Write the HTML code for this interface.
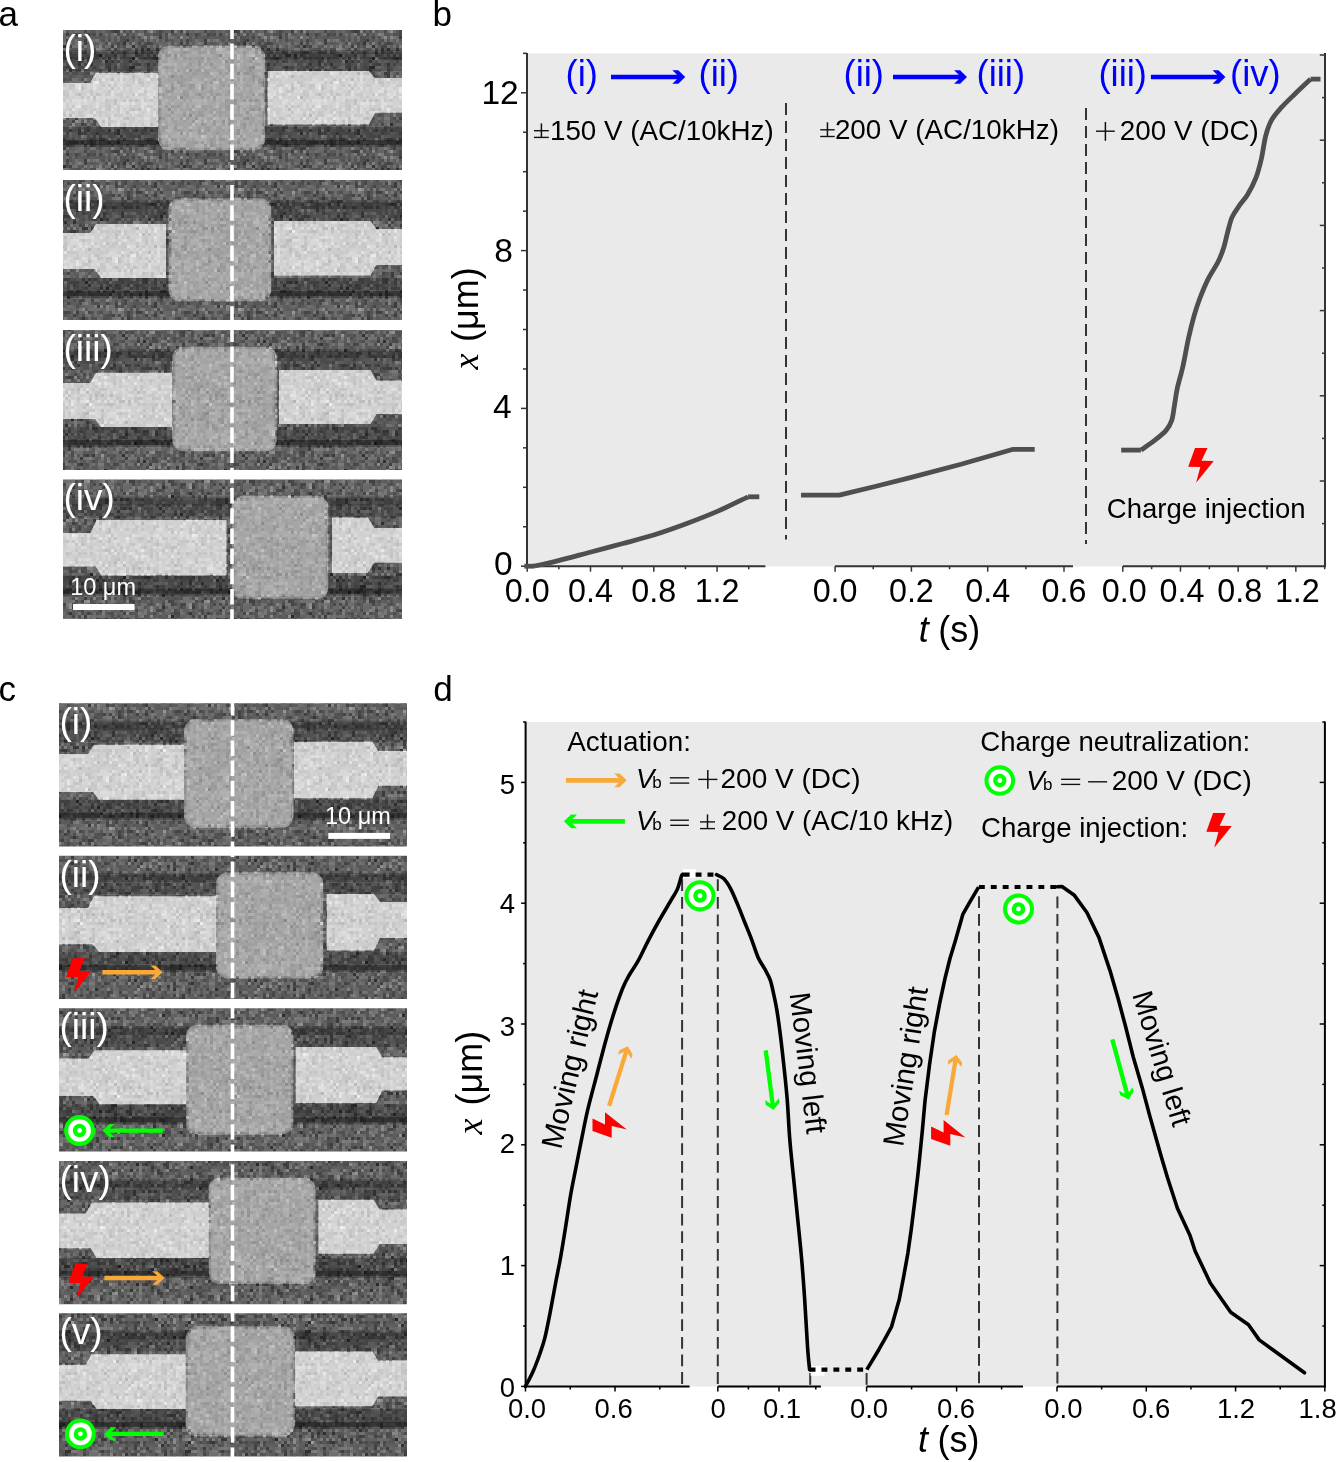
<!DOCTYPE html>
<html><head><meta charset="utf-8"><style>
html,body{margin:0;padding:0;background:#fff;width:1337px;height:1462px;overflow:hidden}
svg{display:block;will-change:transform}
</style></head><body>
<svg width='1337' height='1462' viewBox='0 0 1337 1462'>
<rect width='1337' height='1462' fill='#fff'/>
<defs><pattern id='np' width='120' height='120' patternUnits='userSpaceOnUse'>
<rect width='120' height='120' fill='#808080'/>
<path d='M99 54h3v3h-3z' fill='#323232'/>
<path d='M117 72h3v3h-3zM51 75h3v3h-3zM60 96h3v3h-3z' fill='#383838'/>
<path d='M30 3h3v3h-3zM63 45h3v3h-3zM27 48h3v3h-3zM12 57h3v3h-3zM12 66h3v3h-3zM69 114h3v3h-3z' fill='#3e3e3e'/>
<path d='M3 42h3v3h-3zM12 45h3v3h-3zM21 48h3v3h-3zM36 48h3v3h-3zM54 54h3v3h-3zM105 60h3v3h-3zM9 66h3v3h-3zM111 78h3v3h-3zM51 87h3v3h-3zM48 108h3v3h-3z' fill='#444444'/>
<path d='M108 3h3v3h-3zM45 24h3v3h-3zM45 54h3v3h-3zM48 54h3v3h-3zM36 57h3v3h-3zM69 69h3v3h-3zM6 72h3v3h-3zM12 75h3v3h-3zM78 93h3v3h-3zM6 117h3v3h-3z' fill='#4a4a4a'/>
<path d='M102 0h3v3h-3zM3 3h3v3h-3zM117 9h3v3h-3zM60 12h3v3h-3zM117 12h3v3h-3zM117 21h3v3h-3zM90 24h3v3h-3zM60 27h3v3h-3zM114 30h3v3h-3zM66 33h3v3h-3zM39 36h3v3h-3zM6 39h3v3h-3zM15 51h3v3h-3zM63 51h3v3h-3zM33 57h3v3h-3zM27 63h3v3h-3zM90 63h3v3h-3zM9 69h3v3h-3zM108 69h3v3h-3zM24 72h3v3h-3zM27 75h3v3h-3zM81 87h3v3h-3zM9 99h3v3h-3zM15 99h3v3h-3zM114 99h3v3h-3zM114 102h3v3h-3zM12 108h3v3h-3zM18 108h3v3h-3zM6 111h3v3h-3z' fill='#505050'/>
<path d='M81 3h3v3h-3zM39 18h3v3h-3zM102 18h3v3h-3zM36 21h3v3h-3zM33 27h3v3h-3zM63 27h3v3h-3zM51 30h3v3h-3zM84 39h3v3h-3zM60 42h3v3h-3zM84 42h3v3h-3zM111 45h3v3h-3zM3 51h3v3h-3zM54 57h3v3h-3zM81 57h3v3h-3zM9 60h3v3h-3zM78 60h3v3h-3zM78 63h3v3h-3zM45 66h3v3h-3zM27 72h3v3h-3zM18 78h3v3h-3zM93 78h3v3h-3zM18 81h3v3h-3zM21 81h3v3h-3zM111 87h3v3h-3zM96 93h3v3h-3zM93 96h3v3h-3zM108 105h3v3h-3zM51 111h3v3h-3zM63 114h3v3h-3zM75 117h3v3h-3zM108 117h3v3h-3z' fill='#565656'/>
<path d='M72 0h3v3h-3zM108 0h3v3h-3zM42 6h3v3h-3zM54 6h3v3h-3zM15 9h3v3h-3zM30 9h3v3h-3zM78 9h3v3h-3zM87 9h3v3h-3zM108 9h3v3h-3zM78 12h3v3h-3zM96 12h3v3h-3zM3 18h3v3h-3zM27 18h3v3h-3zM30 18h3v3h-3zM90 18h3v3h-3zM99 18h3v3h-3zM75 21h3v3h-3zM90 21h3v3h-3zM108 21h3v3h-3zM21 24h3v3h-3zM60 30h3v3h-3zM117 30h3v3h-3zM75 33h3v3h-3zM87 33h3v3h-3zM99 33h3v3h-3zM12 36h3v3h-3zM66 39h3v3h-3zM27 42h3v3h-3zM21 45h3v3h-3zM24 45h3v3h-3zM69 45h3v3h-3zM15 48h3v3h-3zM114 48h3v3h-3zM21 51h3v3h-3zM42 51h3v3h-3zM66 51h3v3h-3zM78 51h3v3h-3zM111 51h3v3h-3zM60 54h3v3h-3zM63 57h3v3h-3zM108 57h3v3h-3zM111 60h3v3h-3zM69 63h3v3h-3zM108 66h3v3h-3zM27 69h3v3h-3zM3 72h3v3h-3zM99 72h3v3h-3zM60 75h3v3h-3zM12 78h3v3h-3zM57 81h3v3h-3zM60 81h3v3h-3zM90 81h3v3h-3zM60 84h3v3h-3zM69 84h3v3h-3zM72 84h3v3h-3zM48 90h3v3h-3zM108 90h3v3h-3zM12 93h3v3h-3zM81 96h3v3h-3zM3 99h3v3h-3zM105 99h3v3h-3zM108 108h3v3h-3zM78 111h3v3h-3zM3 117h3v3h-3zM39 117h3v3h-3z' fill='#5c5c5c'/>
<path d='M93 0h3v3h-3zM21 3h3v3h-3zM93 3h3v3h-3zM3 6h3v3h-3zM24 6h3v3h-3zM45 6h3v3h-3zM87 6h3v3h-3zM42 9h3v3h-3zM69 9h3v3h-3zM0 15h3v3h-3zM51 18h3v3h-3zM81 21h3v3h-3zM84 24h3v3h-3zM0 27h3v3h-3zM9 27h3v3h-3zM54 27h3v3h-3zM39 30h3v3h-3zM84 30h3v3h-3zM111 30h3v3h-3zM39 33h3v3h-3zM93 33h3v3h-3zM3 39h3v3h-3zM18 42h3v3h-3zM30 42h3v3h-3zM66 42h3v3h-3zM117 42h3v3h-3zM90 51h3v3h-3zM69 57h3v3h-3zM87 57h3v3h-3zM75 69h3v3h-3zM78 69h3v3h-3zM87 72h3v3h-3zM105 72h3v3h-3zM30 78h3v3h-3zM21 84h3v3h-3zM51 84h3v3h-3zM81 84h3v3h-3zM102 84h3v3h-3zM108 84h3v3h-3zM69 87h3v3h-3zM24 90h3v3h-3zM45 90h3v3h-3zM63 90h3v3h-3zM90 90h3v3h-3zM63 93h3v3h-3zM66 93h3v3h-3zM30 99h3v3h-3zM45 105h3v3h-3zM51 105h3v3h-3zM57 105h3v3h-3zM105 105h3v3h-3zM9 108h3v3h-3zM81 114h3v3h-3zM42 117h3v3h-3z' fill='#626262'/>
<path d='M36 0h3v3h-3zM84 3h3v3h-3zM99 6h3v3h-3zM24 9h3v3h-3zM57 9h3v3h-3zM39 12h3v3h-3zM84 12h3v3h-3zM114 12h3v3h-3zM63 18h3v3h-3zM117 18h3v3h-3zM45 21h3v3h-3zM69 21h3v3h-3zM72 21h3v3h-3zM6 24h3v3h-3zM18 24h3v3h-3zM42 24h3v3h-3zM66 24h3v3h-3zM93 24h3v3h-3zM99 27h3v3h-3zM3 30h3v3h-3zM24 30h3v3h-3zM6 33h3v3h-3zM45 33h3v3h-3zM117 33h3v3h-3zM0 36h3v3h-3zM21 39h3v3h-3zM45 39h3v3h-3zM24 42h3v3h-3zM105 42h3v3h-3zM3 45h3v3h-3zM57 45h3v3h-3zM117 45h3v3h-3zM78 48h3v3h-3zM90 48h3v3h-3zM93 48h3v3h-3zM108 48h3v3h-3zM30 51h3v3h-3zM45 51h3v3h-3zM60 51h3v3h-3zM81 51h3v3h-3zM84 51h3v3h-3zM15 54h3v3h-3zM96 54h3v3h-3zM114 54h3v3h-3zM24 57h3v3h-3zM30 57h3v3h-3zM39 57h3v3h-3zM75 57h3v3h-3zM78 57h3v3h-3zM42 60h3v3h-3zM87 60h3v3h-3zM15 63h3v3h-3zM18 63h3v3h-3zM108 63h3v3h-3zM66 66h3v3h-3zM93 66h3v3h-3zM114 66h3v3h-3zM6 69h3v3h-3zM57 69h3v3h-3zM99 69h3v3h-3zM12 72h3v3h-3zM36 72h3v3h-3zM72 72h3v3h-3zM75 72h3v3h-3zM84 72h3v3h-3zM3 78h3v3h-3zM36 78h3v3h-3zM63 78h3v3h-3zM99 78h3v3h-3zM84 81h3v3h-3zM99 81h3v3h-3zM6 84h3v3h-3zM39 84h3v3h-3zM63 84h3v3h-3zM114 84h3v3h-3zM9 90h3v3h-3zM0 93h3v3h-3zM18 93h3v3h-3zM42 93h3v3h-3zM90 93h3v3h-3zM66 96h3v3h-3zM87 96h3v3h-3zM24 99h3v3h-3zM93 99h3v3h-3zM72 105h3v3h-3zM117 105h3v3h-3zM69 108h3v3h-3zM84 108h3v3h-3zM105 108h3v3h-3zM117 108h3v3h-3zM36 111h3v3h-3zM63 111h3v3h-3zM72 111h3v3h-3zM90 111h3v3h-3zM99 111h3v3h-3zM18 114h3v3h-3zM48 114h3v3h-3zM78 114h3v3h-3zM99 114h3v3h-3zM114 114h3v3h-3zM12 117h3v3h-3zM33 117h3v3h-3zM60 117h3v3h-3zM66 117h3v3h-3z' fill='#686868'/>
<path d='M9 0h3v3h-3zM63 0h3v3h-3zM111 0h3v3h-3zM9 3h3v3h-3zM102 3h3v3h-3zM36 6h3v3h-3zM21 9h3v3h-3zM60 9h3v3h-3zM84 9h3v3h-3zM21 12h3v3h-3zM18 15h3v3h-3zM93 15h3v3h-3zM99 15h3v3h-3zM54 18h3v3h-3zM93 18h3v3h-3zM27 21h3v3h-3zM39 21h3v3h-3zM48 24h3v3h-3zM54 24h3v3h-3zM57 24h3v3h-3zM69 24h3v3h-3zM111 24h3v3h-3zM15 27h3v3h-3zM30 27h3v3h-3zM57 27h3v3h-3zM9 30h3v3h-3zM33 33h3v3h-3zM36 33h3v3h-3zM78 33h3v3h-3zM90 33h3v3h-3zM3 36h3v3h-3zM18 36h3v3h-3zM45 36h3v3h-3zM75 36h3v3h-3zM0 39h3v3h-3zM60 39h3v3h-3zM102 39h3v3h-3zM108 39h3v3h-3zM36 45h3v3h-3zM66 45h3v3h-3zM6 48h3v3h-3zM24 48h3v3h-3zM42 48h3v3h-3zM75 48h3v3h-3zM93 51h3v3h-3zM3 54h3v3h-3zM27 54h3v3h-3zM33 54h3v3h-3zM66 57h3v3h-3zM36 60h3v3h-3zM33 63h3v3h-3zM84 63h3v3h-3zM3 66h3v3h-3zM27 66h3v3h-3zM51 66h3v3h-3zM105 66h3v3h-3zM84 69h3v3h-3zM9 72h3v3h-3zM66 72h3v3h-3zM15 75h3v3h-3zM69 75h3v3h-3zM84 75h3v3h-3zM33 78h3v3h-3zM69 78h3v3h-3zM81 78h3v3h-3zM117 78h3v3h-3zM12 81h3v3h-3zM27 81h3v3h-3zM39 81h3v3h-3zM36 84h3v3h-3zM51 90h3v3h-3zM75 93h3v3h-3zM99 93h3v3h-3zM105 93h3v3h-3zM117 93h3v3h-3zM0 96h3v3h-3zM6 96h3v3h-3zM33 96h3v3h-3zM63 99h3v3h-3zM108 99h3v3h-3zM105 102h3v3h-3zM27 105h3v3h-3zM30 105h3v3h-3zM81 105h3v3h-3zM84 105h3v3h-3zM33 108h3v3h-3zM39 108h3v3h-3zM93 108h3v3h-3zM81 111h3v3h-3zM0 114h3v3h-3zM93 114h3v3h-3zM105 114h3v3h-3zM117 114h3v3h-3z' fill='#6e6e6e'/>
<path d='M12 0h3v3h-3zM18 0h3v3h-3zM30 0h3v3h-3zM54 0h3v3h-3zM0 3h3v3h-3zM15 3h3v3h-3zM54 3h3v3h-3zM69 3h3v3h-3zM0 6h3v3h-3zM78 6h3v3h-3zM84 6h3v3h-3zM3 9h3v3h-3zM12 9h3v3h-3zM54 9h3v3h-3zM96 9h3v3h-3zM99 9h3v3h-3zM102 9h3v3h-3zM66 12h3v3h-3zM81 12h3v3h-3zM93 12h3v3h-3zM105 12h3v3h-3zM24 18h3v3h-3zM33 18h3v3h-3zM60 18h3v3h-3zM72 18h3v3h-3zM66 21h3v3h-3zM93 21h3v3h-3zM33 24h3v3h-3zM72 24h3v3h-3zM99 24h3v3h-3zM39 27h3v3h-3zM84 27h3v3h-3zM87 27h3v3h-3zM96 27h3v3h-3zM15 30h3v3h-3zM36 30h3v3h-3zM42 30h3v3h-3zM66 30h3v3h-3zM90 30h3v3h-3zM108 30h3v3h-3zM12 33h3v3h-3zM24 33h3v3h-3zM27 33h3v3h-3zM51 33h3v3h-3zM54 33h3v3h-3zM6 36h3v3h-3zM57 36h3v3h-3zM69 36h3v3h-3zM84 36h3v3h-3zM87 36h3v3h-3zM99 36h3v3h-3zM102 36h3v3h-3zM108 36h3v3h-3zM114 36h3v3h-3zM12 39h3v3h-3zM18 39h3v3h-3zM27 39h3v3h-3zM69 39h3v3h-3zM114 39h3v3h-3zM0 42h3v3h-3zM9 42h3v3h-3zM51 42h3v3h-3zM90 42h3v3h-3zM111 42h3v3h-3zM114 42h3v3h-3zM54 45h3v3h-3zM78 45h3v3h-3zM81 45h3v3h-3zM102 45h3v3h-3zM9 48h3v3h-3zM30 48h3v3h-3zM45 48h3v3h-3zM60 48h3v3h-3zM72 48h3v3h-3zM84 48h3v3h-3zM18 54h3v3h-3zM63 54h3v3h-3zM93 54h3v3h-3zM9 57h3v3h-3zM21 57h3v3h-3zM27 57h3v3h-3zM45 57h3v3h-3zM72 57h3v3h-3zM93 57h3v3h-3zM96 57h3v3h-3zM45 60h3v3h-3zM69 60h3v3h-3zM72 60h3v3h-3zM81 60h3v3h-3zM117 60h3v3h-3zM12 63h3v3h-3zM105 63h3v3h-3zM6 66h3v3h-3zM42 66h3v3h-3zM48 66h3v3h-3zM78 66h3v3h-3zM81 66h3v3h-3zM12 69h3v3h-3zM63 69h3v3h-3zM87 69h3v3h-3zM114 69h3v3h-3zM54 72h3v3h-3zM63 72h3v3h-3zM81 72h3v3h-3zM24 75h3v3h-3zM33 75h3v3h-3zM48 75h3v3h-3zM54 75h3v3h-3zM102 75h3v3h-3zM9 78h3v3h-3zM39 78h3v3h-3zM48 78h3v3h-3zM54 78h3v3h-3zM57 78h3v3h-3zM60 78h3v3h-3zM66 78h3v3h-3zM105 78h3v3h-3zM51 81h3v3h-3zM114 81h3v3h-3zM9 84h3v3h-3zM33 87h3v3h-3zM72 87h3v3h-3zM84 87h3v3h-3zM99 87h3v3h-3zM66 90h3v3h-3zM87 90h3v3h-3zM21 93h3v3h-3zM24 93h3v3h-3zM36 93h3v3h-3zM60 93h3v3h-3zM81 93h3v3h-3zM108 93h3v3h-3zM24 96h3v3h-3zM48 96h3v3h-3zM54 96h3v3h-3zM63 96h3v3h-3zM12 99h3v3h-3zM51 99h3v3h-3zM18 102h3v3h-3zM39 102h3v3h-3zM60 102h3v3h-3zM108 102h3v3h-3zM9 105h3v3h-3zM15 105h3v3h-3zM54 105h3v3h-3zM66 105h3v3h-3zM90 105h3v3h-3zM99 105h3v3h-3zM3 108h3v3h-3zM15 108h3v3h-3zM36 108h3v3h-3zM60 108h3v3h-3zM90 108h3v3h-3zM21 111h3v3h-3zM96 111h3v3h-3zM102 111h3v3h-3zM117 111h3v3h-3zM9 114h3v3h-3zM21 114h3v3h-3zM45 114h3v3h-3zM75 114h3v3h-3zM108 114h3v3h-3zM9 117h3v3h-3zM30 117h3v3h-3zM51 117h3v3h-3zM87 117h3v3h-3zM90 117h3v3h-3z' fill='#747474'/>
<path d='M21 0h3v3h-3zM33 0h3v3h-3zM39 0h3v3h-3zM51 0h3v3h-3zM81 0h3v3h-3zM33 3h3v3h-3zM45 3h3v3h-3zM57 3h3v3h-3zM60 3h3v3h-3zM15 6h3v3h-3zM27 6h3v3h-3zM63 6h3v3h-3zM96 6h3v3h-3zM6 9h3v3h-3zM33 9h3v3h-3zM36 9h3v3h-3zM39 9h3v3h-3zM114 9h3v3h-3zM9 12h3v3h-3zM24 12h3v3h-3zM99 12h3v3h-3zM108 12h3v3h-3zM9 15h3v3h-3zM12 15h3v3h-3zM48 15h3v3h-3zM111 15h3v3h-3zM87 18h3v3h-3zM105 18h3v3h-3zM30 21h3v3h-3zM54 21h3v3h-3zM99 21h3v3h-3zM105 21h3v3h-3zM114 21h3v3h-3zM102 24h3v3h-3zM69 27h3v3h-3zM108 27h3v3h-3zM117 27h3v3h-3zM93 30h3v3h-3zM105 30h3v3h-3zM69 33h3v3h-3zM108 33h3v3h-3zM81 36h3v3h-3zM90 36h3v3h-3zM93 36h3v3h-3zM96 36h3v3h-3zM9 39h3v3h-3zM39 39h3v3h-3zM48 39h3v3h-3zM51 39h3v3h-3zM93 42h3v3h-3zM0 45h3v3h-3zM18 45h3v3h-3zM45 45h3v3h-3zM39 48h3v3h-3zM69 48h3v3h-3zM27 51h3v3h-3zM54 51h3v3h-3zM69 51h3v3h-3zM117 51h3v3h-3zM39 54h3v3h-3zM78 54h3v3h-3zM3 57h3v3h-3zM90 57h3v3h-3zM102 57h3v3h-3zM114 57h3v3h-3zM6 60h3v3h-3zM60 60h3v3h-3zM99 60h3v3h-3zM108 60h3v3h-3zM3 63h3v3h-3zM63 66h3v3h-3zM69 66h3v3h-3zM72 66h3v3h-3zM0 69h3v3h-3zM18 69h3v3h-3zM30 69h3v3h-3zM45 69h3v3h-3zM51 69h3v3h-3zM96 69h3v3h-3zM78 72h3v3h-3zM111 72h3v3h-3zM42 75h3v3h-3zM57 75h3v3h-3zM72 75h3v3h-3zM87 75h3v3h-3zM90 75h3v3h-3zM111 75h3v3h-3zM21 78h3v3h-3zM6 81h3v3h-3zM33 81h3v3h-3zM102 81h3v3h-3zM3 84h3v3h-3zM27 84h3v3h-3zM42 84h3v3h-3zM84 84h3v3h-3zM99 84h3v3h-3zM3 87h3v3h-3zM9 87h3v3h-3zM54 87h3v3h-3zM90 87h3v3h-3zM117 87h3v3h-3zM81 90h3v3h-3zM114 93h3v3h-3zM36 96h3v3h-3zM42 96h3v3h-3zM18 99h3v3h-3zM27 99h3v3h-3zM36 99h3v3h-3zM69 99h3v3h-3zM111 99h3v3h-3zM48 102h3v3h-3zM102 102h3v3h-3zM111 102h3v3h-3zM18 105h3v3h-3zM87 105h3v3h-3zM66 108h3v3h-3zM81 108h3v3h-3zM99 108h3v3h-3zM30 111h3v3h-3zM39 111h3v3h-3zM69 111h3v3h-3zM105 111h3v3h-3zM30 114h3v3h-3zM39 114h3v3h-3z' fill='#7a7a7a'/>
<path d='M69 0h3v3h-3zM96 0h3v3h-3zM6 3h3v3h-3zM39 3h3v3h-3zM63 3h3v3h-3zM9 6h3v3h-3zM75 6h3v3h-3zM114 6h3v3h-3zM18 9h3v3h-3zM63 9h3v3h-3zM75 9h3v3h-3zM90 9h3v3h-3zM12 12h3v3h-3zM18 12h3v3h-3zM36 12h3v3h-3zM45 12h3v3h-3zM33 15h3v3h-3zM63 15h3v3h-3zM66 15h3v3h-3zM78 15h3v3h-3zM0 18h3v3h-3zM12 18h3v3h-3zM18 18h3v3h-3zM42 18h3v3h-3zM45 18h3v3h-3zM9 21h3v3h-3zM12 21h3v3h-3zM24 21h3v3h-3zM42 21h3v3h-3zM60 21h3v3h-3zM24 24h3v3h-3zM63 24h3v3h-3zM96 24h3v3h-3zM75 27h3v3h-3zM114 27h3v3h-3zM6 30h3v3h-3zM18 30h3v3h-3zM21 30h3v3h-3zM57 30h3v3h-3zM72 30h3v3h-3zM81 30h3v3h-3zM87 30h3v3h-3zM30 33h3v3h-3zM42 33h3v3h-3zM57 33h3v3h-3zM15 36h3v3h-3zM42 36h3v3h-3zM54 36h3v3h-3zM63 36h3v3h-3zM15 39h3v3h-3zM54 39h3v3h-3zM21 42h3v3h-3zM36 42h3v3h-3zM39 42h3v3h-3zM42 42h3v3h-3zM57 42h3v3h-3zM102 42h3v3h-3zM51 45h3v3h-3zM60 45h3v3h-3zM87 45h3v3h-3zM51 48h3v3h-3zM87 48h3v3h-3zM0 51h3v3h-3zM75 54h3v3h-3zM0 57h3v3h-3zM51 57h3v3h-3zM0 63h3v3h-3zM39 63h3v3h-3zM72 63h3v3h-3zM87 63h3v3h-3zM96 63h3v3h-3zM111 63h3v3h-3zM0 66h3v3h-3zM60 69h3v3h-3zM90 69h3v3h-3zM102 72h3v3h-3zM78 75h3v3h-3zM114 75h3v3h-3zM117 75h3v3h-3zM6 78h3v3h-3zM78 78h3v3h-3zM96 78h3v3h-3zM42 81h3v3h-3zM66 81h3v3h-3zM105 81h3v3h-3zM18 84h3v3h-3zM18 87h3v3h-3zM24 87h3v3h-3zM36 87h3v3h-3zM60 87h3v3h-3zM0 90h3v3h-3zM84 90h3v3h-3zM96 90h3v3h-3zM114 90h3v3h-3zM9 93h3v3h-3zM54 93h3v3h-3zM3 96h3v3h-3zM69 96h3v3h-3zM78 96h3v3h-3zM114 96h3v3h-3zM117 96h3v3h-3zM33 99h3v3h-3zM99 99h3v3h-3zM117 99h3v3h-3zM15 102h3v3h-3zM36 102h3v3h-3zM57 102h3v3h-3zM87 102h3v3h-3zM93 102h3v3h-3zM99 102h3v3h-3zM36 105h3v3h-3zM60 105h3v3h-3zM102 105h3v3h-3zM111 105h3v3h-3zM45 108h3v3h-3zM63 108h3v3h-3zM87 108h3v3h-3zM75 111h3v3h-3zM108 111h3v3h-3zM111 111h3v3h-3zM114 111h3v3h-3zM42 114h3v3h-3zM84 114h3v3h-3zM96 114h3v3h-3zM72 117h3v3h-3z' fill='#868686'/>
<path d='M6 0h3v3h-3zM15 0h3v3h-3zM42 0h3v3h-3zM99 0h3v3h-3zM12 3h3v3h-3zM18 3h3v3h-3zM24 3h3v3h-3zM36 3h3v3h-3zM48 3h3v3h-3zM51 3h3v3h-3zM78 3h3v3h-3zM99 3h3v3h-3zM114 3h3v3h-3zM6 6h3v3h-3zM18 6h3v3h-3zM81 6h3v3h-3zM105 6h3v3h-3zM108 6h3v3h-3zM117 6h3v3h-3zM27 9h3v3h-3zM51 9h3v3h-3zM105 9h3v3h-3zM3 12h3v3h-3zM15 12h3v3h-3zM48 12h3v3h-3zM51 12h3v3h-3zM54 12h3v3h-3zM30 15h3v3h-3zM36 15h3v3h-3zM114 15h3v3h-3zM6 18h3v3h-3zM9 18h3v3h-3zM66 18h3v3h-3zM69 18h3v3h-3zM96 18h3v3h-3zM111 18h3v3h-3zM0 21h3v3h-3zM21 21h3v3h-3zM78 21h3v3h-3zM102 21h3v3h-3zM9 24h3v3h-3zM15 24h3v3h-3zM36 24h3v3h-3zM51 24h3v3h-3zM18 27h3v3h-3zM21 27h3v3h-3zM27 27h3v3h-3zM45 27h3v3h-3zM102 27h3v3h-3zM105 27h3v3h-3zM33 30h3v3h-3zM69 30h3v3h-3zM78 30h3v3h-3zM96 30h3v3h-3zM102 30h3v3h-3zM15 33h3v3h-3zM63 33h3v3h-3zM81 33h3v3h-3zM84 33h3v3h-3zM96 33h3v3h-3zM36 36h3v3h-3zM72 36h3v3h-3zM111 36h3v3h-3zM42 39h3v3h-3zM57 39h3v3h-3zM63 39h3v3h-3zM78 39h3v3h-3zM90 39h3v3h-3zM105 39h3v3h-3zM111 39h3v3h-3zM117 39h3v3h-3zM45 42h3v3h-3zM42 45h3v3h-3zM48 48h3v3h-3zM39 51h3v3h-3zM75 51h3v3h-3zM96 51h3v3h-3zM21 54h3v3h-3zM84 54h3v3h-3zM87 54h3v3h-3zM90 54h3v3h-3zM108 54h3v3h-3zM111 54h3v3h-3zM18 57h3v3h-3zM42 57h3v3h-3zM12 60h3v3h-3zM21 60h3v3h-3zM27 60h3v3h-3zM33 60h3v3h-3zM51 60h3v3h-3zM66 60h3v3h-3zM30 63h3v3h-3zM36 63h3v3h-3zM93 63h3v3h-3zM99 63h3v3h-3zM24 66h3v3h-3zM57 66h3v3h-3zM111 66h3v3h-3zM48 69h3v3h-3zM102 69h3v3h-3zM111 69h3v3h-3zM15 72h3v3h-3zM21 72h3v3h-3zM39 72h3v3h-3zM45 72h3v3h-3zM51 72h3v3h-3zM60 72h3v3h-3zM108 72h3v3h-3zM3 75h3v3h-3zM6 75h3v3h-3zM15 78h3v3h-3zM42 78h3v3h-3zM87 78h3v3h-3zM3 81h3v3h-3zM36 81h3v3h-3zM117 81h3v3h-3zM90 84h3v3h-3zM105 84h3v3h-3zM12 87h3v3h-3zM15 87h3v3h-3zM42 87h3v3h-3zM96 87h3v3h-3zM105 87h3v3h-3zM6 90h3v3h-3zM12 90h3v3h-3zM27 90h3v3h-3zM30 90h3v3h-3zM57 90h3v3h-3zM93 90h3v3h-3zM57 93h3v3h-3zM15 96h3v3h-3zM21 96h3v3h-3zM105 96h3v3h-3zM48 99h3v3h-3zM54 99h3v3h-3zM57 99h3v3h-3zM90 99h3v3h-3zM27 102h3v3h-3zM45 102h3v3h-3zM54 102h3v3h-3zM69 102h3v3h-3zM81 102h3v3h-3zM117 102h3v3h-3zM0 105h3v3h-3zM24 105h3v3h-3zM33 105h3v3h-3zM42 108h3v3h-3zM75 108h3v3h-3zM18 111h3v3h-3zM42 111h3v3h-3zM45 111h3v3h-3zM84 111h3v3h-3zM27 114h3v3h-3zM54 114h3v3h-3zM102 114h3v3h-3zM15 117h3v3h-3zM36 117h3v3h-3zM45 117h3v3h-3zM69 117h3v3h-3zM99 117h3v3h-3zM102 117h3v3h-3zM117 117h3v3h-3z' fill='#8c8c8c'/>
<path d='M24 0h3v3h-3zM27 0h3v3h-3zM12 6h3v3h-3zM21 6h3v3h-3zM51 6h3v3h-3zM0 9h3v3h-3zM0 12h3v3h-3zM33 12h3v3h-3zM75 12h3v3h-3zM87 12h3v3h-3zM51 15h3v3h-3zM57 15h3v3h-3zM60 15h3v3h-3zM72 15h3v3h-3zM57 18h3v3h-3zM78 18h3v3h-3zM57 21h3v3h-3zM111 21h3v3h-3zM60 24h3v3h-3zM114 24h3v3h-3zM6 27h3v3h-3zM12 27h3v3h-3zM78 27h3v3h-3zM81 27h3v3h-3zM111 33h3v3h-3zM66 36h3v3h-3zM69 42h3v3h-3zM15 45h3v3h-3zM27 45h3v3h-3zM96 45h3v3h-3zM108 45h3v3h-3zM0 48h3v3h-3zM81 48h3v3h-3zM12 51h3v3h-3zM72 51h3v3h-3zM102 51h3v3h-3zM114 51h3v3h-3zM81 54h3v3h-3zM48 57h3v3h-3zM105 57h3v3h-3zM39 60h3v3h-3zM21 63h3v3h-3zM33 66h3v3h-3zM54 66h3v3h-3zM21 69h3v3h-3zM36 69h3v3h-3zM39 69h3v3h-3zM105 69h3v3h-3zM0 72h3v3h-3zM21 75h3v3h-3zM39 75h3v3h-3zM99 75h3v3h-3zM108 75h3v3h-3zM24 78h3v3h-3zM72 81h3v3h-3zM0 84h3v3h-3zM12 84h3v3h-3zM15 84h3v3h-3zM33 84h3v3h-3zM87 84h3v3h-3zM96 84h3v3h-3zM111 84h3v3h-3zM63 87h3v3h-3zM87 87h3v3h-3zM102 87h3v3h-3zM15 90h3v3h-3zM78 90h3v3h-3zM99 90h3v3h-3zM3 93h3v3h-3zM72 93h3v3h-3zM102 93h3v3h-3zM12 96h3v3h-3zM18 96h3v3h-3zM27 96h3v3h-3zM75 96h3v3h-3zM84 96h3v3h-3zM99 96h3v3h-3zM60 99h3v3h-3zM96 99h3v3h-3zM9 102h3v3h-3zM72 102h3v3h-3zM75 102h3v3h-3zM6 105h3v3h-3zM42 105h3v3h-3zM48 105h3v3h-3zM69 105h3v3h-3zM93 105h3v3h-3zM6 108h3v3h-3zM21 108h3v3h-3zM3 111h3v3h-3zM48 111h3v3h-3zM3 114h3v3h-3zM12 114h3v3h-3zM24 114h3v3h-3zM51 114h3v3h-3zM66 114h3v3h-3zM72 114h3v3h-3zM57 117h3v3h-3zM81 117h3v3h-3z' fill='#929292'/>
<path d='M48 0h3v3h-3zM48 6h3v3h-3zM57 6h3v3h-3zM60 6h3v3h-3zM72 6h3v3h-3zM93 6h3v3h-3zM102 6h3v3h-3zM30 12h3v3h-3zM72 12h3v3h-3zM24 15h3v3h-3zM27 15h3v3h-3zM54 15h3v3h-3zM90 15h3v3h-3zM102 15h3v3h-3zM21 18h3v3h-3zM84 18h3v3h-3zM6 21h3v3h-3zM48 21h3v3h-3zM51 21h3v3h-3zM63 21h3v3h-3zM3 24h3v3h-3zM12 24h3v3h-3zM75 24h3v3h-3zM48 27h3v3h-3zM66 27h3v3h-3zM93 27h3v3h-3zM27 30h3v3h-3zM75 30h3v3h-3zM105 33h3v3h-3zM21 36h3v3h-3zM48 36h3v3h-3zM51 36h3v3h-3zM117 36h3v3h-3zM24 39h3v3h-3zM30 39h3v3h-3zM75 39h3v3h-3zM93 39h3v3h-3zM6 42h3v3h-3zM54 42h3v3h-3zM63 42h3v3h-3zM75 42h3v3h-3zM81 42h3v3h-3zM99 42h3v3h-3zM33 45h3v3h-3zM48 45h3v3h-3zM72 45h3v3h-3zM75 45h3v3h-3zM105 45h3v3h-3zM12 48h3v3h-3zM63 48h3v3h-3zM66 48h3v3h-3zM102 48h3v3h-3zM105 51h3v3h-3zM0 54h3v3h-3zM42 54h3v3h-3zM51 54h3v3h-3zM66 54h3v3h-3zM60 57h3v3h-3zM84 57h3v3h-3zM99 57h3v3h-3zM0 60h3v3h-3zM24 60h3v3h-3zM48 60h3v3h-3zM9 63h3v3h-3zM51 63h3v3h-3zM102 63h3v3h-3zM21 66h3v3h-3zM75 66h3v3h-3zM84 66h3v3h-3zM24 69h3v3h-3zM33 69h3v3h-3zM30 72h3v3h-3zM57 72h3v3h-3zM96 72h3v3h-3zM93 75h3v3h-3zM72 78h3v3h-3zM75 78h3v3h-3zM69 81h3v3h-3zM75 81h3v3h-3zM78 81h3v3h-3zM108 81h3v3h-3zM30 84h3v3h-3zM48 84h3v3h-3zM117 84h3v3h-3zM6 87h3v3h-3zM30 87h3v3h-3zM57 87h3v3h-3zM75 87h3v3h-3zM108 87h3v3h-3zM114 87h3v3h-3zM42 90h3v3h-3zM54 90h3v3h-3zM69 90h3v3h-3zM117 90h3v3h-3zM30 93h3v3h-3zM69 93h3v3h-3zM102 96h3v3h-3zM108 96h3v3h-3zM111 96h3v3h-3zM42 99h3v3h-3zM81 99h3v3h-3zM30 102h3v3h-3zM3 105h3v3h-3zM39 105h3v3h-3zM51 108h3v3h-3zM9 111h3v3h-3zM57 111h3v3h-3zM60 111h3v3h-3zM0 117h3v3h-3zM18 117h3v3h-3zM54 117h3v3h-3zM114 117h3v3h-3z' fill='#989898'/>
<path d='M90 0h3v3h-3zM105 0h3v3h-3zM117 0h3v3h-3zM27 3h3v3h-3zM87 3h3v3h-3zM105 3h3v3h-3zM111 3h3v3h-3zM9 9h3v3h-3zM45 9h3v3h-3zM42 15h3v3h-3zM75 15h3v3h-3zM75 18h3v3h-3zM114 18h3v3h-3zM84 21h3v3h-3zM78 24h3v3h-3zM87 24h3v3h-3zM90 27h3v3h-3zM33 36h3v3h-3zM36 39h3v3h-3zM48 42h3v3h-3zM9 45h3v3h-3zM54 48h3v3h-3zM57 48h3v3h-3zM9 51h3v3h-3zM18 51h3v3h-3zM33 51h3v3h-3zM6 54h3v3h-3zM18 60h3v3h-3zM42 63h3v3h-3zM45 63h3v3h-3zM36 66h3v3h-3zM117 66h3v3h-3zM93 72h3v3h-3zM105 75h3v3h-3zM114 78h3v3h-3zM54 81h3v3h-3zM81 81h3v3h-3zM54 84h3v3h-3zM57 84h3v3h-3zM48 87h3v3h-3zM33 90h3v3h-3zM33 93h3v3h-3zM48 93h3v3h-3zM87 93h3v3h-3zM6 99h3v3h-3zM21 99h3v3h-3zM66 99h3v3h-3zM75 99h3v3h-3zM78 99h3v3h-3zM102 99h3v3h-3zM21 102h3v3h-3zM63 102h3v3h-3zM78 102h3v3h-3zM84 102h3v3h-3zM63 105h3v3h-3zM114 105h3v3h-3zM57 108h3v3h-3zM102 108h3v3h-3zM111 108h3v3h-3zM0 111h3v3h-3zM12 111h3v3h-3zM33 111h3v3h-3zM54 111h3v3h-3zM90 114h3v3h-3zM111 114h3v3h-3zM48 117h3v3h-3zM84 117h3v3h-3zM96 117h3v3h-3zM105 117h3v3h-3zM111 117h3v3h-3z' fill='#9e9e9e'/>
<path d='M96 3h3v3h-3zM111 6h3v3h-3zM57 12h3v3h-3zM3 15h3v3h-3zM96 15h3v3h-3zM105 15h3v3h-3zM36 18h3v3h-3zM81 18h3v3h-3zM3 21h3v3h-3zM15 21h3v3h-3zM27 24h3v3h-3zM81 24h3v3h-3zM24 27h3v3h-3zM42 27h3v3h-3zM21 33h3v3h-3zM114 33h3v3h-3zM87 39h3v3h-3zM96 39h3v3h-3zM84 45h3v3h-3zM90 45h3v3h-3zM111 48h3v3h-3zM99 51h3v3h-3zM24 54h3v3h-3zM30 54h3v3h-3zM57 54h3v3h-3zM111 57h3v3h-3zM84 60h3v3h-3zM48 63h3v3h-3zM63 63h3v3h-3zM81 63h3v3h-3zM15 66h3v3h-3zM39 66h3v3h-3zM99 66h3v3h-3zM18 72h3v3h-3zM48 72h3v3h-3zM0 75h3v3h-3zM30 75h3v3h-3zM45 75h3v3h-3zM0 78h3v3h-3zM0 81h3v3h-3zM75 84h3v3h-3zM93 84h3v3h-3zM27 87h3v3h-3zM21 90h3v3h-3zM60 90h3v3h-3zM111 90h3v3h-3zM90 96h3v3h-3zM96 96h3v3h-3zM45 99h3v3h-3zM72 99h3v3h-3zM3 102h3v3h-3zM6 102h3v3h-3zM24 102h3v3h-3zM42 102h3v3h-3zM96 102h3v3h-3zM0 108h3v3h-3zM27 111h3v3h-3zM66 111h3v3h-3zM24 117h3v3h-3zM27 117h3v3h-3zM78 117h3v3h-3z' fill='#a4a4a4'/>
<path d='M78 0h3v3h-3zM117 3h3v3h-3zM48 9h3v3h-3zM21 15h3v3h-3zM69 15h3v3h-3zM117 15h3v3h-3zM96 21h3v3h-3zM3 33h3v3h-3zM48 33h3v3h-3zM12 42h3v3h-3zM78 42h3v3h-3zM6 45h3v3h-3zM39 45h3v3h-3zM48 51h3v3h-3zM87 51h3v3h-3zM108 51h3v3h-3zM36 54h3v3h-3zM102 54h3v3h-3zM54 63h3v3h-3zM18 66h3v3h-3zM87 66h3v3h-3zM102 66h3v3h-3zM42 69h3v3h-3zM15 81h3v3h-3zM111 81h3v3h-3zM0 87h3v3h-3zM21 87h3v3h-3zM27 93h3v3h-3zM111 93h3v3h-3zM30 96h3v3h-3zM84 99h3v3h-3zM0 102h3v3h-3zM51 102h3v3h-3zM15 111h3v3h-3zM33 114h3v3h-3zM87 114h3v3h-3z' fill='#aaaaaa'/>
<path d='M42 3h3v3h-3zM81 9h3v3h-3zM111 9h3v3h-3zM69 12h3v3h-3zM48 18h3v3h-3zM111 27h3v3h-3zM12 30h3v3h-3zM54 30h3v3h-3zM63 30h3v3h-3zM18 33h3v3h-3zM108 42h3v3h-3zM99 45h3v3h-3zM114 45h3v3h-3zM99 48h3v3h-3zM9 54h3v3h-3zM54 69h3v3h-3zM66 69h3v3h-3zM81 69h3v3h-3zM42 72h3v3h-3zM36 75h3v3h-3zM84 78h3v3h-3zM102 78h3v3h-3zM45 84h3v3h-3zM93 87h3v3h-3zM18 90h3v3h-3zM12 102h3v3h-3zM21 105h3v3h-3zM96 105h3v3h-3zM72 108h3v3h-3zM93 111h3v3h-3z' fill='#b0b0b0'/>
<path d='M69 6h3v3h-3zM63 12h3v3h-3zM45 15h3v3h-3zM0 30h3v3h-3zM30 36h3v3h-3zM96 48h3v3h-3zM117 54h3v3h-3zM117 63h3v3h-3zM27 78h3v3h-3zM93 81h3v3h-3zM39 87h3v3h-3zM39 96h3v3h-3zM75 105h3v3h-3z' fill='#b6b6b6'/>
<path d='M75 0h3v3h-3zM84 0h3v3h-3zM72 3h3v3h-3zM84 15h3v3h-3zM108 18h3v3h-3zM24 36h3v3h-3zM60 36h3v3h-3zM117 57h3v3h-3zM102 60h3v3h-3zM90 72h3v3h-3zM78 84h3v3h-3zM39 90h3v3h-3zM15 93h3v3h-3zM63 117h3v3h-3zM93 117h3v3h-3z' fill='#bcbcbc'/>
<path d='M30 30h3v3h-3zM12 54h3v3h-3zM57 96h3v3h-3zM78 105h3v3h-3z' fill='#c2c2c2'/>
<path d='M15 18h3v3h-3zM96 81h3v3h-3zM78 87h3v3h-3zM27 108h3v3h-3z' fill='#c8c8c8'/>
<path d='M81 15h3v3h-3zM15 57h3v3h-3z' fill='#d4d4d4'/>
</pattern><filter id='sb' x='-10%' y='-10%' width='120%' height='120%'><feGaussianBlur stdDeviation='1.2'/></filter></defs>
<clipPath id='c0'><rect x='63' y='30' width='339' height='140'/></clipPath>
<g clip-path='url(#c0)' style='isolation:isolate'><g>
<rect x='59' y='26' width='347' height='148' fill='#5f5f5f'/>
<rect x='59' y='50.00' width='347' height='21' fill='#3e3e3e' opacity='0.55'/>
<rect x='59' y='52.00' width='347' height='7' fill='#262626' opacity='0.35'/>
<rect x='59' y='127.00' width='347' height='20' fill='#3e3e3e' opacity='0.7'/>
<rect x='59' y='140.00' width='347' height='5' fill='#1e1e1e' opacity='0.55'/>
<polygon points='59.00,83.00 90.00,83.00 96.00,72.70 159.40,72.70 159.40,127.00 101.00,127.00 95.00,118.00 59.00,118.00' fill='#d1d1d1' />
<polygon points='267.70,71.00 369.00,71.00 375.00,78.00 406.00,78.00 406.00,112.70 375.00,112.70 369.00,124.40 267.70,124.40' fill='#d1d1d1' />
<rect x='159.40' y='47.00' width='104.50' height='102.00' rx='10' fill='#a6a6a6' stroke='#949494' stroke-width='2.5'/>
<rect x='63' y='30' width='339' height='140' fill='url(#np)' style='mix-blend-mode:overlay' transform='translate(0,0)' />
<rect x='160.40' y='48.00' width='102.50' height='100.00' rx='9' fill='#a6a6a6' opacity='0.45' filter='url(#sb)'/>
</g></g>
<text x='63.50' y='60.80' font-size='37' fill='#fff' text-anchor='start' font-style='normal' font-family='"Liberation Sans", sans-serif' >(i)</text>
<clipPath id='c1'><rect x='63' y='180' width='339' height='140'/></clipPath>
<g clip-path='url(#c1)' style='isolation:isolate'><g>
<rect x='59' y='176' width='347' height='148' fill='#5f5f5f'/>
<rect x='59' y='200.00' width='347' height='21' fill='#3e3e3e' opacity='0.55'/>
<rect x='59' y='202.00' width='347' height='7' fill='#262626' opacity='0.35'/>
<rect x='59' y='278.00' width='347' height='20' fill='#3e3e3e' opacity='0.7'/>
<rect x='59' y='291.00' width='347' height='5' fill='#1e1e1e' opacity='0.55'/>
<polygon points='59.00,233.00 90.00,233.00 96.00,224.00 166.00,224.00 166.00,278.00 101.00,278.00 95.00,269.00 59.00,269.00' fill='#d1d1d1' />
<polygon points='274.00,221.00 370.50,221.00 376.50,229.00 406.00,229.00 406.00,265.00 376.50,265.00 370.50,275.60 274.00,275.60' fill='#d1d1d1' />
<rect x='169.70' y='199.50' width='100.30' height='100.50' rx='10' fill='#a6a6a6' stroke='#949494' stroke-width='2.5'/>
<rect x='26' y='127' width='339' height='140' fill='url(#np)' style='mix-blend-mode:overlay' transform='translate(37,53)' />
<rect x='170.70' y='200.50' width='98.30' height='98.50' rx='9' fill='#a6a6a6' opacity='0.45' filter='url(#sb)'/>
</g></g>
<text x='63.50' y='210.80' font-size='37' fill='#fff' text-anchor='start' font-style='normal' font-family='"Liberation Sans", sans-serif' >(ii)</text>
<clipPath id='c2'><rect x='63' y='330' width='339' height='140'/></clipPath>
<g clip-path='url(#c2)' style='isolation:isolate'><g>
<rect x='59' y='326' width='347' height='148' fill='#5f5f5f'/>
<rect x='59' y='349.00' width='347' height='21' fill='#3e3e3e' opacity='0.55'/>
<rect x='59' y='351.00' width='347' height='7' fill='#262626' opacity='0.35'/>
<rect x='59' y='427.00' width='347' height='20' fill='#3e3e3e' opacity='0.7'/>
<rect x='59' y='440.00' width='347' height='5' fill='#1e1e1e' opacity='0.55'/>
<polygon points='59.00,383.00 90.00,383.00 96.00,372.70 172.00,372.70 172.00,427.00 101.00,427.00 95.00,419.00 59.00,419.00' fill='#d1d1d1' />
<polygon points='279.00,370.00 370.50,370.00 376.50,380.50 406.00,380.50 406.00,414.00 376.50,414.00 370.50,424.00 279.00,424.00' fill='#d1d1d1' />
<rect x='173.50' y='348.00' width='102.00' height='102.00' rx='10' fill='#a6a6a6' stroke='#949494' stroke-width='2.5'/>
<rect x='-11' y='224' width='339' height='140' fill='url(#np)' style='mix-blend-mode:overlay' transform='translate(74,106)' />
<rect x='174.50' y='349.00' width='100.00' height='100.00' rx='9' fill='#a6a6a6' opacity='0.45' filter='url(#sb)'/>
</g></g>
<text x='63.50' y='360.80' font-size='37' fill='#fff' text-anchor='start' font-style='normal' font-family='"Liberation Sans", sans-serif' >(iii)</text>
<clipPath id='c3'><rect x='63' y='479.5' width='339' height='139.5'/></clipPath>
<g clip-path='url(#c3)' style='isolation:isolate'><g>
<rect x='59' y='475.5' width='347' height='147.5' fill='#5f5f5f'/>
<rect x='59' y='496.60' width='347' height='21' fill='#3e3e3e' opacity='0.55'/>
<rect x='59' y='498.60' width='347' height='7' fill='#262626' opacity='0.35'/>
<rect x='59' y='575.60' width='347' height='20' fill='#3e3e3e' opacity='0.7'/>
<rect x='59' y='588.60' width='347' height='5' fill='#1e1e1e' opacity='0.55'/>
<polygon points='59.00,533.00 90.50,533.00 96.50,520.00 226.50,520.00 226.50,575.60 101.50,575.60 95.50,566.60 59.00,566.60' fill='#d1d1d1' />
<polygon points='332.00,517.60 368.00,517.60 374.00,528.00 406.00,528.00 406.00,562.70 374.00,562.70 368.00,573.00 332.00,573.00' fill='#d1d1d1' />
<rect x='233.00' y='497.00' width='94.00' height='100.60' rx='10' fill='#a6a6a6' stroke='#949494' stroke-width='2.5'/>
<rect x='-48' y='440.5' width='339' height='139.5' fill='url(#np)' style='mix-blend-mode:overlay' transform='translate(111,39)' />
<rect x='234.00' y='498.00' width='92.00' height='98.60' rx='9' fill='#a6a6a6' opacity='0.45' filter='url(#sb)'/>
</g></g>
<text x='63.50' y='510.30' font-size='37' fill='#fff' text-anchor='start' font-style='normal' font-family='"Liberation Sans", sans-serif' >(iv)</text>
<rect x='73' y='604' width='61.5' height='6' fill='#fff'/>
<text x='70.20' y='594.80' font-size='23.5' fill='#fff' text-anchor='start' font-style='normal' font-family='"Liberation Sans", sans-serif' >10 μm</text>
<line x1='232' y1='23.4' x2='232' y2='620' stroke='#fff' stroke-width='3.6' stroke-dasharray='15.5 4.7'/>
<clipPath id='c4'><rect x='59' y='703.2' width='348' height='143.3'/></clipPath>
<g clip-path='url(#c4)' style='isolation:isolate'><g>
<rect x='55' y='699.2' width='356' height='151.3' fill='#5f5f5f'/>
<rect x='55' y='720.70' width='356' height='21' fill='#3e3e3e' opacity='0.55'/>
<rect x='55' y='722.70' width='356' height='7' fill='#262626' opacity='0.35'/>
<rect x='55' y='799.80' width='356' height='20' fill='#3e3e3e' opacity='0.7'/>
<rect x='55' y='812.80' width='356' height='5' fill='#1e1e1e' opacity='0.55'/>
<polygon points='55.00,754.00 88.00,754.00 94.00,744.80 185.30,744.80 185.30,799.80 99.00,799.80 93.00,792.00 55.00,792.00' fill='#d1d1d1' />
<polygon points='293.70,741.70 372.40,741.70 378.40,751.00 411.00,751.00 411.00,785.70 378.40,785.70 372.40,798.20 293.70,798.20' fill='#d1d1d1' />
<rect x='185.30' y='720.60' width='106.90' height='105.90' rx='10' fill='#a6a6a6' stroke='#949494' stroke-width='2.5'/>
<rect x='31' y='611.2' width='348' height='143.3' fill='url(#np)' style='mix-blend-mode:overlay' transform='translate(28,92)' />
<rect x='186.30' y='721.60' width='104.90' height='103.90' rx='9' fill='#a6a6a6' opacity='0.45' filter='url(#sb)'/>
</g></g>
<text x='59.50' y='734.00' font-size='37' fill='#fff' text-anchor='start' font-style='normal' font-family='"Liberation Sans", sans-serif' >(i)</text>
<rect x='328.3' y='832.9' width='61.8' height='6' fill='#fff'/>
<text x='325.00' y='824.30' font-size='23.5' fill='#fff' text-anchor='start' font-style='normal' font-family='"Liberation Sans", sans-serif' >10 μm</text>
<clipPath id='c5'><rect x='59' y='855.7' width='348' height='143.3'/></clipPath>
<g clip-path='url(#c5)' style='isolation:isolate'><g>
<rect x='55' y='851.7' width='356' height='151.3' fill='#5f5f5f'/>
<rect x='55' y='873.00' width='356' height='21' fill='#3e3e3e' opacity='0.55'/>
<rect x='55' y='875.00' width='356' height='7' fill='#262626' opacity='0.35'/>
<rect x='55' y='952.10' width='356' height='20' fill='#3e3e3e' opacity='0.7'/>
<rect x='55' y='965.10' width='356' height='5' fill='#1e1e1e' opacity='0.55'/>
<polygon points='55.00,908.00 88.00,908.00 94.00,896.20 216.80,896.20 216.80,952.10 99.00,952.10 93.00,944.30 55.00,944.30' fill='#d1d1d1' />
<polygon points='326.70,894.00 374.00,894.00 380.00,902.00 411.00,902.00 411.00,938.00 380.00,938.00 374.00,950.60 326.70,950.60' fill='#d1d1d1' />
<rect x='217.40' y='873.60' width='104.60' height='103.70' rx='10' fill='#a6a6a6' stroke='#949494' stroke-width='2.5'/>
<rect x='-6' y='830.7' width='348' height='143.3' fill='url(#np)' style='mix-blend-mode:overlay' transform='translate(65,25)' />
<rect x='218.40' y='874.60' width='102.60' height='101.70' rx='9' fill='#a6a6a6' opacity='0.45' filter='url(#sb)'/>
</g></g>
<text x='59.50' y='886.50' font-size='37' fill='#fff' text-anchor='start' font-style='normal' font-family='"Liberation Sans", sans-serif' >(ii)</text>
<clipPath id='c6'><rect x='59' y='1008.3' width='348' height='143.3'/></clipPath>
<g clip-path='url(#c6)' style='isolation:isolate'><g>
<rect x='55' y='1004.3' width='356' height='151.3' fill='#5f5f5f'/>
<rect x='55' y='1026.00' width='356' height='21' fill='#3e3e3e' opacity='0.55'/>
<rect x='55' y='1028.00' width='356' height='7' fill='#262626' opacity='0.35'/>
<rect x='55' y='1104.30' width='356' height='20' fill='#3e3e3e' opacity='0.7'/>
<rect x='55' y='1117.30' width='356' height='5' fill='#1e1e1e' opacity='0.55'/>
<polygon points='55.00,1058.60 88.50,1058.60 94.50,1050.30 187.00,1050.30 187.00,1104.30 99.50,1104.30 93.50,1096.00 55.00,1096.00' fill='#d1d1d1' />
<polygon points='295.70,1047.00 376.30,1047.00 382.30,1057.30 411.00,1057.30 411.00,1090.50 382.30,1090.50 376.30,1103.00 295.70,1103.00' fill='#d1d1d1' />
<rect x='187.50' y='1026.00' width='104.60' height='107.40' rx='10' fill='#a6a6a6' stroke='#949494' stroke-width='2.5'/>
<rect x='-43' y='930.3' width='348' height='143.3' fill='url(#np)' style='mix-blend-mode:overlay' transform='translate(102,78)' />
<rect x='188.50' y='1027.00' width='102.60' height='105.40' rx='9' fill='#a6a6a6' opacity='0.45' filter='url(#sb)'/>
</g></g>
<text x='59.50' y='1039.10' font-size='37' fill='#fff' text-anchor='start' font-style='normal' font-family='"Liberation Sans", sans-serif' >(iii)</text>
<clipPath id='c7'><rect x='59' y='1160.9' width='348' height='143.3'/></clipPath>
<g clip-path='url(#c7)' style='isolation:isolate'><g>
<rect x='55' y='1156.9' width='356' height='151.3' fill='#5f5f5f'/>
<rect x='55' y='1178.80' width='356' height='21' fill='#3e3e3e' opacity='0.55'/>
<rect x='55' y='1180.80' width='356' height='7' fill='#262626' opacity='0.35'/>
<rect x='55' y='1257.90' width='356' height='20' fill='#3e3e3e' opacity='0.7'/>
<rect x='55' y='1270.90' width='356' height='5' fill='#1e1e1e' opacity='0.55'/>
<polygon points='55.00,1213.60 85.70,1213.60 91.70,1202.60 209.00,1202.60 209.00,1257.90 96.70,1257.90 90.70,1248.20 55.00,1248.20' fill='#d1d1d1' />
<polygon points='318.40,1199.80 373.60,1199.80 379.60,1209.50 411.00,1209.50 411.00,1244.00 379.60,1244.00 373.60,1253.70 318.40,1253.70' fill='#d1d1d1' />
<rect x='210.00' y='1179.00' width='104.30' height='103.80' rx='10' fill='#a6a6a6' stroke='#949494' stroke-width='2.5'/>
<rect x='40' y='1149.9' width='348' height='143.3' fill='url(#np)' style='mix-blend-mode:overlay' transform='translate(19,11)' />
<rect x='211.00' y='1180.00' width='102.30' height='101.80' rx='9' fill='#a6a6a6' opacity='0.45' filter='url(#sb)'/>
</g></g>
<text x='59.50' y='1191.70' font-size='37' fill='#fff' text-anchor='start' font-style='normal' font-family='"Liberation Sans", sans-serif' >(iv)</text>
<clipPath id='c8'><rect x='59' y='1313.2' width='348' height='143.3'/></clipPath>
<g clip-path='url(#c8)' style='isolation:isolate'><g>
<rect x='55' y='1309.2' width='356' height='151.3' fill='#5f5f5f'/>
<rect x='55' y='1330.40' width='356' height='21' fill='#3e3e3e' opacity='0.55'/>
<rect x='55' y='1332.40' width='356' height='7' fill='#262626' opacity='0.35'/>
<rect x='55' y='1409.00' width='356' height='20' fill='#3e3e3e' opacity='0.7'/>
<rect x='55' y='1422.00' width='356' height='5' fill='#1e1e1e' opacity='0.55'/>
<polygon points='55.00,1364.70 85.70,1364.70 91.70,1354.20 186.40,1354.20 186.40,1409.00 96.70,1409.00 90.70,1400.70 55.00,1400.70' fill='#d1d1d1' />
<polygon points='295.00,1351.40 372.20,1351.40 378.20,1360.60 411.00,1360.60 411.00,1396.50 378.20,1396.50 372.20,1406.20 295.00,1406.20' fill='#d1d1d1' />
<rect x='187.00' y='1327.40' width='106.50' height='107.90' rx='10' fill='#a6a6a6' stroke='#949494' stroke-width='2.5'/>
<rect x='3' y='1249.2' width='348' height='143.3' fill='url(#np)' style='mix-blend-mode:overlay' transform='translate(56,64)' />
<rect x='188.00' y='1328.40' width='104.50' height='105.90' rx='9' fill='#a6a6a6' opacity='0.45' filter='url(#sb)'/>
</g></g>
<text x='59.50' y='1344.00' font-size='37' fill='#fff' text-anchor='start' font-style='normal' font-family='"Liberation Sans", sans-serif' >(v)</text>
<line x1='232.5' y1='700' x2='232.5' y2='1457' stroke='#fff' stroke-width='3.6' stroke-dasharray='15.5 4.7'/>
<polygon points='0.00,0.00 12.50,0.00 6.50,12.70 18.70,12.90 1.10,34.70 5.30,19.00 -6.80,18.80' fill='#ff0000' transform='translate(72.80,958.20) rotate(0) scale(1.0)'/>
<polygon points='102.40,969.95 155.18,969.95 150.50,965.40 155.50,965.40 162.50,972.20 155.50,979.00 150.50,979.00 155.18,974.45 102.40,974.45' fill='#f8a93a' />
<circle cx='79.55' cy='1130.50' r='15.40' fill='#00ff00'/>
<circle cx='79.55' cy='1130.50' r='11.37' fill='#fff'/>
<circle cx='79.55' cy='1130.50' r='6.74' fill='#00ff00'/>
<circle cx='79.55' cy='1130.50' r='2.42' fill='#fff'/>
<polygon points='162.90,1132.75 109.91,1132.75 114.70,1137.20 109.50,1137.20 102.40,1130.60 109.50,1124.00 114.70,1124.00 109.91,1128.45 162.90,1128.45' fill='#00ff00' />
<polygon points='0.00,0.00 12.50,0.00 6.50,12.70 18.70,12.90 1.10,34.70 5.30,19.00 -6.80,18.80' fill='#ff0000' transform='translate(75.20,1263.90) rotate(0) scale(1.0)'/>
<polygon points='104.40,1275.75 157.22,1275.75 152.20,1271.20 157.20,1271.20 164.70,1278.00 157.20,1284.80 152.20,1284.80 157.22,1280.25 104.40,1280.25' fill='#f8a93a' />
<circle cx='80.40' cy='1433.90' r='15.40' fill='#00ff00'/>
<circle cx='80.40' cy='1433.90' r='11.37' fill='#fff'/>
<circle cx='80.40' cy='1433.90' r='6.74' fill='#00ff00'/>
<circle cx='80.40' cy='1433.90' r='2.42' fill='#fff'/>
<polygon points='163.50,1436.05 111.51,1436.05 116.30,1440.50 111.10,1440.50 104.00,1433.90 111.10,1427.30 116.30,1427.30 111.51,1431.75 163.50,1431.75' fill='#00ff00' />
<text x='-1.50' y='26.00' font-size='35' fill='#000' text-anchor='start' font-style='normal' font-family='"Liberation Sans", sans-serif' >a</text>
<text x='432.50' y='26.00' font-size='35' fill='#000' text-anchor='start' font-style='normal' font-family='"Liberation Sans", sans-serif' >b</text>
<text x='-1.50' y='701.00' font-size='35' fill='#000' text-anchor='start' font-style='normal' font-family='"Liberation Sans", sans-serif' >c</text>
<text x='433.30' y='701.00' font-size='35' fill='#000' text-anchor='start' font-style='normal' font-family='"Liberation Sans", sans-serif' >d</text>
<rect x='527' y='53.5' width='798' height='513' fill='#eaeaea'/>
<line x1='527.00' y1='53.00' x2='527.00' y2='567.20' stroke='#333' stroke-width='2' />
<line x1='521.00' y1='566.20' x2='527.00' y2='566.20' stroke='#333' stroke-width='1.5' />
<line x1='523.00' y1='526.75' x2='527.00' y2='526.75' stroke='#333' stroke-width='1.5' />
<line x1='523.00' y1='487.30' x2='527.00' y2='487.30' stroke='#333' stroke-width='1.5' />
<line x1='523.00' y1='447.85' x2='527.00' y2='447.85' stroke='#333' stroke-width='1.5' />
<line x1='521.00' y1='408.40' x2='527.00' y2='408.40' stroke='#333' stroke-width='1.5' />
<line x1='523.00' y1='368.95' x2='527.00' y2='368.95' stroke='#333' stroke-width='1.5' />
<line x1='523.00' y1='329.50' x2='527.00' y2='329.50' stroke='#333' stroke-width='1.5' />
<line x1='523.00' y1='290.05' x2='527.00' y2='290.05' stroke='#333' stroke-width='1.5' />
<line x1='521.00' y1='250.60' x2='527.00' y2='250.60' stroke='#333' stroke-width='1.5' />
<line x1='523.00' y1='211.15' x2='527.00' y2='211.15' stroke='#333' stroke-width='1.5' />
<line x1='523.00' y1='171.70' x2='527.00' y2='171.70' stroke='#333' stroke-width='1.5' />
<line x1='523.00' y1='132.25' x2='527.00' y2='132.25' stroke='#333' stroke-width='1.5' />
<line x1='521.00' y1='92.80' x2='527.00' y2='92.80' stroke='#333' stroke-width='1.5' />
<line x1='523.00' y1='53.35' x2='527.00' y2='53.35' stroke='#333' stroke-width='1.5' />
<text x='494.10' y='574.90' font-size='33.5' fill='#000' text-anchor='start' font-style='normal' font-family='"Liberation Sans", sans-serif' >0</text>
<text x='492.90' y='418.30' font-size='33.5' fill='#000' text-anchor='start' font-style='normal' font-family='"Liberation Sans", sans-serif' >4</text>
<text x='494.20' y='262.20' font-size='33.5' fill='#000' text-anchor='start' font-style='normal' font-family='"Liberation Sans", sans-serif' >8</text>
<text x='481.40' y='103.80' font-size='33.5' fill='#000' text-anchor='start' font-style='normal' font-family='"Liberation Sans", sans-serif' >12</text>
<line x1='1325.00' y1='53.00' x2='1325.00' y2='567.20' stroke='#333' stroke-width='2' />
<line x1='1322.00' y1='523.60' x2='1325.00' y2='523.60' stroke='#333' stroke-width='1.5' />
<line x1='1319.80' y1='481.00' x2='1325.00' y2='481.00' stroke='#333' stroke-width='1.5' />
<line x1='1322.00' y1='438.40' x2='1325.00' y2='438.40' stroke='#333' stroke-width='1.5' />
<line x1='1319.80' y1='395.80' x2='1325.00' y2='395.80' stroke='#333' stroke-width='1.5' />
<line x1='1322.00' y1='353.20' x2='1325.00' y2='353.20' stroke='#333' stroke-width='1.5' />
<line x1='1319.80' y1='310.60' x2='1325.00' y2='310.60' stroke='#333' stroke-width='1.5' />
<line x1='1322.00' y1='268.00' x2='1325.00' y2='268.00' stroke='#333' stroke-width='1.5' />
<line x1='1319.80' y1='225.40' x2='1325.00' y2='225.40' stroke='#333' stroke-width='1.5' />
<line x1='1322.00' y1='182.80' x2='1325.00' y2='182.80' stroke='#333' stroke-width='1.5' />
<line x1='1319.80' y1='140.20' x2='1325.00' y2='140.20' stroke='#333' stroke-width='1.5' />
<line x1='1322.00' y1='97.60' x2='1325.00' y2='97.60' stroke='#333' stroke-width='1.5' />
<line x1='1319.80' y1='55.00' x2='1325.00' y2='55.00' stroke='#333' stroke-width='1.5' />
<line x1='527.00' y1='566.20' x2='765.40' y2='566.20' stroke='#333' stroke-width='2' />
<line x1='527.20' y1='566.20' x2='527.20' y2='571.70' stroke='#333' stroke-width='1.5' />
<line x1='558.85' y1='566.20' x2='558.85' y2='569.20' stroke='#333' stroke-width='1.5' />
<line x1='590.50' y1='566.20' x2='590.50' y2='571.70' stroke='#333' stroke-width='1.5' />
<line x1='622.15' y1='566.20' x2='622.15' y2='569.20' stroke='#333' stroke-width='1.5' />
<line x1='653.80' y1='566.20' x2='653.80' y2='571.70' stroke='#333' stroke-width='1.5' />
<line x1='685.45' y1='566.20' x2='685.45' y2='569.20' stroke='#333' stroke-width='1.5' />
<line x1='717.10' y1='566.20' x2='717.10' y2='571.70' stroke='#333' stroke-width='1.5' />
<line x1='748.75' y1='566.20' x2='748.75' y2='569.20' stroke='#333' stroke-width='1.5' />
<text x='527.20' y='601.60' font-size='32.3' fill='#000' text-anchor='middle' font-style='normal' font-family='"Liberation Sans", sans-serif' >0.0</text>
<text x='590.50' y='601.60' font-size='32.3' fill='#000' text-anchor='middle' font-style='normal' font-family='"Liberation Sans", sans-serif' >0.4</text>
<text x='653.80' y='601.60' font-size='32.3' fill='#000' text-anchor='middle' font-style='normal' font-family='"Liberation Sans", sans-serif' >0.8</text>
<text x='717.10' y='601.60' font-size='32.3' fill='#000' text-anchor='middle' font-style='normal' font-family='"Liberation Sans", sans-serif' >1.2</text>
<line x1='835.10' y1='566.20' x2='1073.00' y2='566.20' stroke='#333' stroke-width='2' />
<line x1='835.10' y1='566.20' x2='835.10' y2='571.70' stroke='#333' stroke-width='1.5' />
<line x1='873.25' y1='566.20' x2='873.25' y2='569.20' stroke='#333' stroke-width='1.5' />
<line x1='911.40' y1='566.20' x2='911.40' y2='571.70' stroke='#333' stroke-width='1.5' />
<line x1='949.55' y1='566.20' x2='949.55' y2='569.20' stroke='#333' stroke-width='1.5' />
<line x1='987.70' y1='566.20' x2='987.70' y2='571.70' stroke='#333' stroke-width='1.5' />
<line x1='1025.85' y1='566.20' x2='1025.85' y2='569.20' stroke='#333' stroke-width='1.5' />
<line x1='1064.00' y1='566.20' x2='1064.00' y2='571.70' stroke='#333' stroke-width='1.5' />
<text x='835.10' y='601.60' font-size='32.3' fill='#000' text-anchor='middle' font-style='normal' font-family='"Liberation Sans", sans-serif' >0.0</text>
<text x='911.40' y='601.60' font-size='32.3' fill='#000' text-anchor='middle' font-style='normal' font-family='"Liberation Sans", sans-serif' >0.2</text>
<text x='987.70' y='601.60' font-size='32.3' fill='#000' text-anchor='middle' font-style='normal' font-family='"Liberation Sans", sans-serif' >0.4</text>
<text x='1064.00' y='601.60' font-size='32.3' fill='#000' text-anchor='middle' font-style='normal' font-family='"Liberation Sans", sans-serif' >0.6</text>
<line x1='1122.80' y1='566.20' x2='1325.00' y2='566.20' stroke='#333' stroke-width='2' />
<line x1='1122.80' y1='566.20' x2='1122.80' y2='571.70' stroke='#333' stroke-width='1.5' />
<line x1='1151.64' y1='566.20' x2='1151.64' y2='569.20' stroke='#333' stroke-width='1.5' />
<line x1='1180.48' y1='566.20' x2='1180.48' y2='571.70' stroke='#333' stroke-width='1.5' />
<line x1='1209.32' y1='566.20' x2='1209.32' y2='569.20' stroke='#333' stroke-width='1.5' />
<line x1='1238.16' y1='566.20' x2='1238.16' y2='571.70' stroke='#333' stroke-width='1.5' />
<line x1='1267.00' y1='566.20' x2='1267.00' y2='569.20' stroke='#333' stroke-width='1.5' />
<line x1='1295.84' y1='566.20' x2='1295.84' y2='571.70' stroke='#333' stroke-width='1.5' />
<line x1='1324.68' y1='566.20' x2='1324.68' y2='569.20' stroke='#333' stroke-width='1.5' />
<text x='1124.30' y='601.60' font-size='32.3' fill='#000' text-anchor='middle' font-style='normal' font-family='"Liberation Sans", sans-serif' >0.0</text>
<text x='1181.98' y='601.60' font-size='32.3' fill='#000' text-anchor='middle' font-style='normal' font-family='"Liberation Sans", sans-serif' >0.4</text>
<text x='1239.66' y='601.60' font-size='32.3' fill='#000' text-anchor='middle' font-style='normal' font-family='"Liberation Sans", sans-serif' >0.8</text>
<text x='1297.34' y='601.60' font-size='32.3' fill='#000' text-anchor='middle' font-style='normal' font-family='"Liberation Sans", sans-serif' >1.2</text>
<line x1='786.00' y1='102.90' x2='786.00' y2='539.40' stroke='#333' stroke-width='2' stroke-dasharray='12 6'/>
<line x1='1086.00' y1='108.00' x2='1086.00' y2='544.00' stroke='#333' stroke-width='2' stroke-dasharray='12 6'/>
<polyline points='524.30,566.20 534.00,566.20' fill='none' stroke='#4f4f4f' stroke-width='4.8' stroke-linejoin='round' stroke-linecap='butt'/>
<path d='M534.00,566.20 C537.90,565.30 548.05,563.13 557.40,560.80 C566.75,558.47 579.35,555.03 590.10,552.20 C600.85,549.37 611.30,546.67 621.90,543.80 C632.50,540.93 643.10,538.30 653.70,535.00 C664.30,531.70 674.90,527.93 685.50,524.00 C696.10,520.07 706.87,515.93 717.30,511.40 C727.73,506.87 742.97,499.23 748.10,496.80' fill='none' stroke='#4f4f4f' stroke-width='4.8' stroke-linejoin='round' />
<polyline points='748.10,496.80 759.30,496.80' fill='none' stroke='#4f4f4f' stroke-width='4.8' stroke-linejoin='round' stroke-linecap='butt'/>
<polyline points='801.00,495.20 839.30,495.20 875.00,486.50 912.30,477.10 961.00,464.30 1013.20,449.30 1034.70,449.30' fill='none' stroke='#4f4f4f' stroke-width='4.8' stroke-linejoin='round' stroke-linecap='butt'/>
<polyline points='1121.20,450.10 1140.90,450.10' fill='none' stroke='#4f4f4f' stroke-width='4.8' stroke-linejoin='round' stroke-linecap='butt'/>
<path d='M1140.90,450.10 C1143.23,448.45 1150.70,443.48 1154.90,440.20 C1159.10,436.92 1163.30,433.67 1166.10,430.40 C1168.90,427.13 1170.30,424.80 1171.70,420.60 C1173.10,416.40 1173.57,410.58 1174.50,405.20 C1175.43,399.82 1175.88,394.85 1177.30,388.30 C1178.72,381.75 1181.12,374.32 1183.00,365.90 C1184.88,357.48 1186.73,346.22 1188.60,337.80 C1190.47,329.38 1192.33,321.95 1194.20,315.40 C1196.07,308.85 1197.47,304.58 1199.80,298.50 C1202.13,292.42 1205.17,284.98 1208.20,278.90 C1211.23,272.82 1215.43,267.15 1218.00,262.00 C1220.57,256.85 1221.95,253.13 1223.60,248.00 C1225.25,242.87 1226.48,236.35 1227.90,231.20 C1229.32,226.05 1230.23,221.32 1232.10,217.10 C1233.97,212.88 1236.53,209.63 1239.10,205.90 C1241.67,202.17 1244.70,199.37 1247.50,194.70 C1250.30,190.03 1253.57,183.98 1255.90,177.90 C1258.23,171.82 1259.87,165.22 1261.50,158.20 C1263.13,151.18 1264.05,142.12 1265.70,135.80 C1267.35,129.48 1268.82,124.98 1271.40,120.30 C1273.98,115.62 1277.23,112.13 1281.20,107.70 C1285.17,103.27 1290.30,98.47 1295.20,93.70 C1300.10,88.93 1308.03,81.53 1310.60,79.10' fill='none' stroke='#4f4f4f' stroke-width='4.8' stroke-linejoin='round' />
<polyline points='1310.60,79.10 1320.50,79.10' fill='none' stroke='#4f4f4f' stroke-width='4.8' stroke-linejoin='round' stroke-linecap='butt'/>
<text x='565.50' y='86.00' font-size='36.5' fill='#0000ff' text-anchor='start' font-style='normal' font-family='"Liberation Sans", sans-serif' >(i)</text>
<polygon points='611.00,74.85 677.02,74.85 672.30,70.20 678.30,70.20 685.20,77.00 678.30,83.80 672.30,83.80 677.02,79.15 611.00,79.15' fill='#0000ff' />
<text x='698.50' y='86.00' font-size='36.5' fill='#0000ff' text-anchor='start' font-style='normal' font-family='"Liberation Sans", sans-serif' >(ii)</text>
<text x='843.50' y='86.00' font-size='36.5' fill='#0000ff' text-anchor='start' font-style='normal' font-family='"Liberation Sans", sans-serif' >(ii)</text>
<polygon points='893.00,74.85 958.82,74.85 954.10,70.20 960.10,70.20 967.00,77.00 960.10,83.80 954.10,83.80 958.82,79.15 893.00,79.15' fill='#0000ff' />
<text x='976.50' y='86.00' font-size='36.5' fill='#0000ff' text-anchor='start' font-style='normal' font-family='"Liberation Sans", sans-serif' >(iii)</text>
<text x='1098.40' y='86.00' font-size='36.5' fill='#0000ff' text-anchor='start' font-style='normal' font-family='"Liberation Sans", sans-serif' >(iii)</text>
<polygon points='1150.90,74.85 1217.22,74.85 1212.50,70.20 1218.50,70.20 1225.40,77.00 1218.50,83.80 1212.50,83.80 1217.22,79.15 1150.90,79.15' fill='#0000ff' />
<text x='1230.00' y='86.00' font-size='36.5' fill='#0000ff' text-anchor='start' font-style='normal' font-family='"Liberation Sans", sans-serif' >(iv)</text>
<line x1='534.00' y1='130.70' x2='548.80' y2='130.70' stroke='#111' stroke-width='1.4' />
<line x1='534.00' y1='137.40' x2='548.80' y2='137.40' stroke='#111' stroke-width='1.4' />
<line x1='541.40' y1='123.40' x2='541.40' y2='137.40' stroke='#111' stroke-width='1.5' />
<text x='550.00' y='140.00' font-size='27.75' fill='#000' text-anchor='start' font-style='normal' font-family='"Liberation Sans", sans-serif' >150 V (AC/10kHz)</text>
<line x1='820.20' y1='129.80' x2='834.70' y2='129.80' stroke='#111' stroke-width='1.4' />
<line x1='820.20' y1='136.50' x2='834.70' y2='136.50' stroke='#111' stroke-width='1.4' />
<line x1='827.45' y1='122.30' x2='827.45' y2='136.50' stroke='#111' stroke-width='1.5' />
<text x='834.90' y='139.30' font-size='27.8' fill='#000' text-anchor='start' font-style='normal' font-family='"Liberation Sans", sans-serif' >200 V (AC/10kHz)</text>
<line x1='1096.00' y1='131.20' x2='1114.80' y2='131.20' stroke='#111' stroke-width='1.4' />
<line x1='1105.40' y1='122.00' x2='1105.40' y2='140.80' stroke='#111' stroke-width='1.5' />
<text x='1119.80' y='139.60' font-size='27.8' fill='#000' text-anchor='start' font-style='normal' font-family='"Liberation Sans", sans-serif' >200 V (DC)</text>
<text x='1106.80' y='518.00' font-size='27.5' fill='#000' text-anchor='start' font-style='normal' font-family='"Liberation Sans", sans-serif' >Charge injection</text>
<polygon points='0.00,0.00 12.50,0.00 6.50,12.70 18.70,12.90 1.10,34.70 5.30,19.00 -6.80,18.80' fill='#ff0000' transform='translate(1195.00,448.00) rotate(0) scale(1.0)'/>
<text transform='translate(477.8,369.5) rotate(-90)' font-size='36' font-family='"Liberation Serif", serif' font-style='italic'>x</text>
<text transform='translate(477.8,341.9) rotate(-90)' font-size='36' font-family='"Liberation Sans", sans-serif'>(μm)</text>
<text x='918.8' y='641.6' font-size='36' font-style='italic' font-family='"Liberation Sans", sans-serif'>t</text>
<text x='938.2' y='641.6' font-size='36' font-family='"Liberation Sans", sans-serif'>(s)</text>
<rect x='526' y='722' width='799' height='664.5' fill='#eaeaea'/>
<line x1='525.60' y1='721.50' x2='525.60' y2='1387.50' stroke='#000' stroke-width='2' />
<line x1='521.10' y1='1386.40' x2='525.60' y2='1386.40' stroke='#000' stroke-width='1.5' />
<line x1='523.10' y1='1326.00' x2='525.60' y2='1326.00' stroke='#000' stroke-width='1.5' />
<line x1='521.10' y1='1265.60' x2='525.60' y2='1265.60' stroke='#000' stroke-width='1.5' />
<line x1='523.10' y1='1205.20' x2='525.60' y2='1205.20' stroke='#000' stroke-width='1.5' />
<line x1='521.10' y1='1144.80' x2='525.60' y2='1144.80' stroke='#000' stroke-width='1.5' />
<line x1='523.10' y1='1084.40' x2='525.60' y2='1084.40' stroke='#000' stroke-width='1.5' />
<line x1='521.10' y1='1024.00' x2='525.60' y2='1024.00' stroke='#000' stroke-width='1.5' />
<line x1='523.10' y1='963.60' x2='525.60' y2='963.60' stroke='#000' stroke-width='1.5' />
<line x1='521.10' y1='903.20' x2='525.60' y2='903.20' stroke='#000' stroke-width='1.5' />
<line x1='523.10' y1='842.80' x2='525.60' y2='842.80' stroke='#000' stroke-width='1.5' />
<line x1='521.10' y1='782.40' x2='525.60' y2='782.40' stroke='#000' stroke-width='1.5' />
<line x1='523.10' y1='722.00' x2='525.60' y2='722.00' stroke='#000' stroke-width='1.5' />
<text x='515.00' y='1396.60' font-size='27.5' fill='#000' text-anchor='end' font-style='normal' font-family='"Liberation Sans", sans-serif' >0</text>
<text x='515.00' y='1274.70' font-size='27.5' fill='#000' text-anchor='end' font-style='normal' font-family='"Liberation Sans", sans-serif' >1</text>
<text x='515.00' y='1152.90' font-size='27.5' fill='#000' text-anchor='end' font-style='normal' font-family='"Liberation Sans", sans-serif' >2</text>
<text x='515.00' y='1035.70' font-size='27.5' fill='#000' text-anchor='end' font-style='normal' font-family='"Liberation Sans", sans-serif' >3</text>
<text x='515.00' y='912.70' font-size='27.5' fill='#000' text-anchor='end' font-style='normal' font-family='"Liberation Sans", sans-serif' >4</text>
<text x='515.00' y='794.20' font-size='27.5' fill='#000' text-anchor='end' font-style='normal' font-family='"Liberation Sans", sans-serif' >5</text>
<line x1='1324.90' y1='721.50' x2='1324.90' y2='1387.50' stroke='#000' stroke-width='2' />
<line x1='1322.30' y1='1326.00' x2='1324.90' y2='1326.00' stroke='#000' stroke-width='1.5' />
<line x1='1319.70' y1='1265.60' x2='1324.90' y2='1265.60' stroke='#000' stroke-width='1.5' />
<line x1='1322.30' y1='1205.20' x2='1324.90' y2='1205.20' stroke='#000' stroke-width='1.5' />
<line x1='1319.70' y1='1144.80' x2='1324.90' y2='1144.80' stroke='#000' stroke-width='1.5' />
<line x1='1322.30' y1='1084.40' x2='1324.90' y2='1084.40' stroke='#000' stroke-width='1.5' />
<line x1='1319.70' y1='1024.00' x2='1324.90' y2='1024.00' stroke='#000' stroke-width='1.5' />
<line x1='1322.30' y1='963.60' x2='1324.90' y2='963.60' stroke='#000' stroke-width='1.5' />
<line x1='1319.70' y1='903.20' x2='1324.90' y2='903.20' stroke='#000' stroke-width='1.5' />
<line x1='1322.30' y1='842.80' x2='1324.90' y2='842.80' stroke='#000' stroke-width='1.5' />
<line x1='1319.70' y1='782.40' x2='1324.90' y2='782.40' stroke='#000' stroke-width='1.5' />
<line x1='1322.30' y1='722.00' x2='1324.90' y2='722.00' stroke='#000' stroke-width='1.5' />
<line x1='525.50' y1='1386.50' x2='689.60' y2='1386.50' stroke='#000' stroke-width='2' />
<line x1='525.50' y1='1386.50' x2='525.50' y2='1391.50' stroke='#000' stroke-width='1.5' />
<line x1='570.26' y1='1386.50' x2='570.26' y2='1389.50' stroke='#000' stroke-width='1.5' />
<line x1='615.02' y1='1386.50' x2='615.02' y2='1391.50' stroke='#000' stroke-width='1.5' />
<line x1='659.78' y1='1386.50' x2='659.78' y2='1389.50' stroke='#000' stroke-width='1.5' />
<line x1='717.80' y1='1386.50' x2='820.90' y2='1386.50' stroke='#000' stroke-width='2' />
<line x1='717.80' y1='1386.50' x2='717.80' y2='1391.50' stroke='#000' stroke-width='1.5' />
<line x1='748.40' y1='1386.50' x2='748.40' y2='1389.50' stroke='#000' stroke-width='1.5' />
<line x1='779.00' y1='1386.50' x2='779.00' y2='1391.50' stroke='#000' stroke-width='1.5' />
<line x1='815.80' y1='1386.50' x2='815.80' y2='1389.50' stroke='#000' stroke-width='1.5' />
<line x1='866.60' y1='1386.50' x2='1023.00' y2='1386.50' stroke='#000' stroke-width='2' />
<line x1='866.60' y1='1386.50' x2='866.60' y2='1391.50' stroke='#000' stroke-width='1.5' />
<line x1='911.60' y1='1386.50' x2='911.60' y2='1389.50' stroke='#000' stroke-width='1.5' />
<line x1='956.60' y1='1386.50' x2='956.60' y2='1391.50' stroke='#000' stroke-width='1.5' />
<line x1='1001.60' y1='1386.50' x2='1001.60' y2='1389.50' stroke='#000' stroke-width='1.5' />
<line x1='1057.00' y1='1386.50' x2='1325.20' y2='1386.50' stroke='#000' stroke-width='2' />
<line x1='1057.00' y1='1386.50' x2='1057.00' y2='1391.50' stroke='#000' stroke-width='1.5' />
<line x1='1101.64' y1='1386.50' x2='1101.64' y2='1389.50' stroke='#000' stroke-width='1.5' />
<line x1='1146.28' y1='1386.50' x2='1146.28' y2='1391.50' stroke='#000' stroke-width='1.5' />
<line x1='1190.92' y1='1386.50' x2='1190.92' y2='1389.50' stroke='#000' stroke-width='1.5' />
<line x1='1235.56' y1='1386.50' x2='1235.56' y2='1391.50' stroke='#000' stroke-width='1.5' />
<line x1='1280.20' y1='1386.50' x2='1280.20' y2='1389.50' stroke='#000' stroke-width='1.5' />
<line x1='1324.84' y1='1386.50' x2='1324.84' y2='1391.50' stroke='#000' stroke-width='1.5' />
<text x='527.00' y='1417.60' font-size='27.5' fill='#000' text-anchor='middle' font-style='normal' font-family='"Liberation Sans", sans-serif' >0.0</text>
<text x='613.70' y='1417.60' font-size='27.5' fill='#000' text-anchor='middle' font-style='normal' font-family='"Liberation Sans", sans-serif' >0.6</text>
<text x='718.10' y='1417.60' font-size='27.5' fill='#000' text-anchor='middle' font-style='normal' font-family='"Liberation Sans", sans-serif' >0</text>
<text x='782.00' y='1417.60' font-size='27.5' fill='#000' text-anchor='middle' font-style='normal' font-family='"Liberation Sans", sans-serif' >0.1</text>
<text x='869.00' y='1417.60' font-size='27.5' fill='#000' text-anchor='middle' font-style='normal' font-family='"Liberation Sans", sans-serif' >0.0</text>
<text x='956.00' y='1417.60' font-size='27.5' fill='#000' text-anchor='middle' font-style='normal' font-family='"Liberation Sans", sans-serif' >0.6</text>
<text x='1063.40' y='1417.60' font-size='27.5' fill='#000' text-anchor='middle' font-style='normal' font-family='"Liberation Sans", sans-serif' >0.0</text>
<text x='1151.20' y='1417.60' font-size='27.5' fill='#000' text-anchor='middle' font-style='normal' font-family='"Liberation Sans", sans-serif' >0.6</text>
<text x='1236.00' y='1417.60' font-size='27.5' fill='#000' text-anchor='middle' font-style='normal' font-family='"Liberation Sans", sans-serif' >1.2</text>
<text x='1317.70' y='1417.60' font-size='27.5' fill='#000' text-anchor='middle' font-style='normal' font-family='"Liberation Sans", sans-serif' >1.8</text>
<line x1='682.10' y1='879.30' x2='682.10' y2='1386.00' stroke='#333' stroke-width='2' stroke-dasharray='11.8 5.8'/>
<line x1='717.80' y1='879.30' x2='717.80' y2='1386.00' stroke='#333' stroke-width='2' stroke-dasharray='11.8 5.8'/>
<line x1='810.20' y1='1373.00' x2='810.20' y2='1386.00' stroke='#333' stroke-width='2' stroke-dasharray='11.8 5.8'/>
<line x1='866.60' y1='1373.00' x2='866.60' y2='1390.00' stroke='#333' stroke-width='2' stroke-dasharray='11.8 5.8'/>
<line x1='979.00' y1='896.30' x2='979.00' y2='1386.00' stroke='#333' stroke-width='2' stroke-dasharray='11.8 5.8'/>
<line x1='1057.40' y1='896.50' x2='1057.40' y2='1386.00' stroke='#333' stroke-width='2' stroke-dasharray='11.8 5.8'/>
<rect x='683' y='869.2' width='12.9' height='8.8' fill='#fff'/>
<rect x='810.6' y='1366' width='13.9' height='9.7' fill='#fff'/>
<path d='M525.40,1386.50 C526.65,1384.05 530.50,1377.22 532.90,1371.80 C535.30,1366.38 537.82,1359.62 539.80,1354.00 C541.78,1348.38 543.13,1344.72 544.80,1338.10 C546.47,1331.48 547.98,1323.57 549.80,1314.30 C551.62,1305.03 553.88,1292.10 555.70,1282.50 C557.52,1272.90 559.05,1265.95 560.70,1256.70 C562.35,1247.45 563.95,1237.25 565.60,1227.00 C567.25,1216.75 568.93,1204.80 570.60,1195.20 C572.27,1185.60 573.78,1178.65 575.60,1169.40 C577.42,1160.15 579.48,1149.62 581.50,1139.70 C583.52,1129.78 585.10,1120.90 587.70,1109.90 C590.30,1098.90 594.12,1085.15 597.10,1073.70 C600.08,1062.25 602.75,1051.47 605.60,1041.20 C608.45,1030.93 611.35,1020.93 614.20,1012.10 C617.05,1003.27 620.13,994.47 622.70,988.20 C625.27,981.93 627.03,979.05 629.60,974.50 C632.17,969.95 634.97,966.60 638.10,960.90 C641.23,955.20 644.98,946.87 648.40,940.30 C651.82,933.73 654.90,928.05 658.60,921.50 C662.30,914.95 667.47,906.40 670.60,901.00 C673.73,895.60 675.55,893.37 677.40,889.10 C679.25,884.83 680.68,877.80 681.70,875.40 C682.72,873.00 683.20,874.82 683.50,874.70' fill='none' stroke='#000' stroke-width='3.6' stroke-linejoin='round' stroke-linecap='round'/>
<path d='M716.50,874.70 C717.73,875.38 721.52,876.40 723.90,878.80 C726.28,881.20 728.52,884.83 730.80,889.10 C733.08,893.37 735.33,899.00 737.60,904.40 C739.87,909.80 742.12,915.80 744.40,921.50 C746.68,927.20 749.02,932.62 751.30,938.60 C753.58,944.58 755.82,952.27 758.10,957.40 C760.38,962.53 763.00,965.68 765.00,969.40 C767.00,973.12 768.68,975.72 770.10,979.70 C771.52,983.68 772.37,988.18 773.50,993.30 C774.63,998.42 775.77,1003.55 776.90,1010.40 C778.03,1017.25 779.15,1025.28 780.30,1034.40 C781.45,1043.52 782.65,1054.28 783.80,1065.10 C784.95,1075.92 786.20,1086.87 787.20,1099.30 C788.20,1111.73 788.72,1126.37 789.80,1139.70 C790.88,1153.03 792.38,1166.08 793.70,1179.30 C795.02,1192.52 796.38,1205.77 797.70,1219.00 C799.02,1232.23 800.45,1245.48 801.60,1258.70 C802.75,1271.92 803.60,1283.43 804.60,1298.30 C805.60,1313.17 806.77,1336.00 807.60,1347.90 C808.43,1359.80 809.27,1366.07 809.60,1369.70' fill='none' stroke='#000' stroke-width='3.6' stroke-linejoin='round' stroke-linecap='round'/>
<polyline points='866.80,1369.60 878.80,1349.70 885.60,1337.70 891.60,1326.60 895.00,1314.60 899.30,1299.20 903.60,1277.00 907.90,1253.10 911.30,1229.10 914.70,1201.80 918.10,1172.70 920.70,1147.10 922.40,1130.00 925.00,1101.00 929.60,1064.10 934.20,1032.70 939.70,1003.10 945.30,977.20 949.90,958.70 955.50,940.20 962.80,914.40 970.20,901.40 978.60,887.20' fill='none' stroke='#000' stroke-width='3.6' stroke-linejoin='round' />
<polyline points='1057.40,886.80 1062.00,886.60 1074.00,894.90 1086.90,912.50 1098.90,937.40 1110.00,970.60 1118.30,999.30 1125.70,1027.00 1133.10,1056.50 1142.30,1087.90 1149.70,1115.60 1156.20,1138.70 1161.30,1156.70 1167.60,1178.00 1177.40,1208.30 1189.80,1234.90 1195.10,1251.00 1210.30,1283.00 1230.70,1312.30 1248.50,1324.80 1259.20,1339.90 1304.50,1372.80' fill='none' stroke='#000' stroke-width='3.6' stroke-linejoin='round' stroke-linecap='round'/>
<line x1='683.70' y1='874.70' x2='717.10' y2='874.70' stroke='#000' stroke-width='4.2' stroke-dasharray='5.9 6'/>
<line x1='809.60' y1='1369.70' x2='866.80' y2='1369.70' stroke='#000' stroke-width='4.2' stroke-dasharray='5.9 6'/>
<line x1='978.90' y1='887.00' x2='1057.40' y2='887.00' stroke='#000' stroke-width='4.2' stroke-dasharray='5.9 6'/>
<circle cx='700.00' cy='895.80' r='15.60' fill='#00ff00'/>
<circle cx='700.00' cy='895.80' r='11.52' fill='#fff'/>
<circle cx='700.00' cy='895.80' r='6.83' fill='#00ff00'/>
<circle cx='700.00' cy='895.80' r='2.45' fill='#fff'/>
<circle cx='1018.50' cy='909.00' r='15.50' fill='#00ff00'/>
<circle cx='1018.50' cy='909.00' r='11.45' fill='#fff'/>
<circle cx='1018.50' cy='909.00' r='6.79' fill='#00ff00'/>
<circle cx='1018.50' cy='909.00' r='2.43' fill='#fff'/>
<text x='567.30' y='751.20' font-size='27.8' fill='#000' text-anchor='start' font-style='normal' font-family='"Liberation Sans", sans-serif' >Actuation:</text>
<polygon points='566.00,777.90 618.88,777.90 614.20,773.45 619.50,773.45 626.70,780.30 619.50,787.15 614.20,787.15 618.88,782.70 566.00,782.70' fill='#f8a93a' />
<polygon points='624.90,823.70 572.32,823.70 577.00,828.15 571.10,828.15 563.90,821.30 571.10,814.45 577.00,814.45 572.32,818.90 624.90,818.90' fill='#00ff00' />
<text x='636.10' y='788.20' font-size='27.6' fill='#000' text-anchor='start' font-style='italic' font-family='"Liberation Sans", sans-serif' >V</text>
<text x='652.30' y='788.20' font-size='17' fill='#000' text-anchor='start' font-style='normal' font-family='"Liberation Sans", sans-serif' >b</text>
<line x1='669.80' y1='777.80' x2='689.20' y2='777.80' stroke='#111' stroke-width='1.35' />
<line x1='669.80' y1='783.10' x2='689.20' y2='783.10' stroke='#111' stroke-width='1.35' />
<line x1='698.20' y1='779.40' x2='717.40' y2='779.40' stroke='#111' stroke-width='1.4' />
<line x1='707.80' y1='769.90' x2='707.80' y2='788.70' stroke='#111' stroke-width='1.5' />
<text x='720.50' y='788.20' font-size='28' fill='#000' text-anchor='start' font-style='normal' font-family='"Liberation Sans", sans-serif' >200 V (DC)</text>
<text x='636.10' y='830.40' font-size='27.6' fill='#000' text-anchor='start' font-style='italic' font-family='"Liberation Sans", sans-serif' >V</text>
<text x='652.30' y='830.40' font-size='17' fill='#000' text-anchor='start' font-style='normal' font-family='"Liberation Sans", sans-serif' >b</text>
<line x1='670.20' y1='820.20' x2='688.90' y2='820.20' stroke='#111' stroke-width='1.35' />
<line x1='670.20' y1='825.30' x2='688.90' y2='825.30' stroke='#111' stroke-width='1.35' />
<line x1='700.00' y1='821.90' x2='715.00' y2='821.90' stroke='#111' stroke-width='1.4' />
<line x1='700.00' y1='828.60' x2='715.00' y2='828.60' stroke='#111' stroke-width='1.4' />
<line x1='707.50' y1='814.40' x2='707.50' y2='828.60' stroke='#111' stroke-width='1.5' />
<text x='721.80' y='830.40' font-size='27.75' fill='#000' text-anchor='start' font-style='normal' font-family='"Liberation Sans", sans-serif' >200 V (AC/10 kHz)</text>
<text x='980.30' y='750.70' font-size='27.6' fill='#000' text-anchor='start' font-style='normal' font-family='"Liberation Sans", sans-serif' >Charge neutralization:</text>
<circle cx='999.80' cy='780.50' r='15.30' fill='#00ff00'/>
<circle cx='999.80' cy='780.50' r='11.30' fill='#fff'/>
<circle cx='999.80' cy='780.50' r='6.70' fill='#00ff00'/>
<circle cx='999.80' cy='780.50' r='2.40' fill='#fff'/>
<text x='1026.20' y='789.70' font-size='27.6' fill='#000' text-anchor='start' font-style='italic' font-family='"Liberation Sans", sans-serif' >V</text>
<text x='1042.90' y='789.70' font-size='17' fill='#000' text-anchor='start' font-style='normal' font-family='"Liberation Sans", sans-serif' >b</text>
<line x1='1061.10' y1='779.30' x2='1080.20' y2='779.30' stroke='#111' stroke-width='1.35' />
<line x1='1061.10' y1='784.40' x2='1080.20' y2='784.40' stroke='#111' stroke-width='1.35' />
<line x1='1088.10' y1='781.80' x2='1107.10' y2='781.80' stroke='#111' stroke-width='1.4' />
<text x='1111.70' y='789.50' font-size='28' fill='#000' text-anchor='start' font-style='normal' font-family='"Liberation Sans", sans-serif' >200 V (DC)</text>
<text x='981.00' y='836.60' font-size='27.6' fill='#000' text-anchor='start' font-style='normal' font-family='"Liberation Sans", sans-serif' >Charge injection:</text>
<polygon points='0.00,0.00 12.50,0.00 6.50,12.70 18.70,12.90 1.10,34.70 5.30,19.00 -6.80,18.80' fill='#ff0000' transform='translate(1213.10,813.00) rotate(0) scale(1.0)'/>
<text transform='translate(561.00,1150.30) rotate(-76.7)' font-size='29.8' font-style='normal' font-family='"Liberation Sans", sans-serif'>Moving right</text>
<text transform='translate(789.60,993.40) rotate(83.1)' font-size='29.4' font-style='normal' font-family='"Liberation Sans", sans-serif'>Moving left</text>
<text transform='translate(903.00,1147.60) rotate(-81.1)' font-size='29.6' font-style='normal' font-family='"Liberation Sans", sans-serif'>Moving right</text>
<text transform='translate(1132.00,994.40) rotate(72.9)' font-size='28.9' font-style='normal' font-family='"Liberation Sans", sans-serif'>Moving left</text>
<polygon points='607.05,1105.15 623.87,1051.91 618.04,1054.61 619.42,1050.23 627.90,1046.30 632.58,1054.39 631.20,1058.77 627.97,1053.21 611.15,1106.45' fill='#f8a93a' />
<polygon points='767.83,1050.12 774.69,1103.22 778.85,1098.31 779.44,1102.87 773.40,1110.00 765.75,1104.64 765.16,1100.07 770.43,1103.77 763.57,1050.68' fill='#00ff00' />
<polygon points='944.48,1114.66 953.13,1061.23 947.75,1064.76 948.48,1060.22 956.30,1055.10 962.10,1062.42 961.37,1066.96 957.37,1061.92 948.72,1115.34' fill='#f8a93a' />
<polygon points='1114.38,1038.84 1128.96,1092.60 1132.41,1087.17 1133.61,1091.61 1128.60,1099.50 1120.29,1095.23 1119.09,1090.79 1124.81,1093.73 1110.22,1039.96' fill='#00ff00' />
<polygon points='592.50,1118.60 605.00,1124.60 605.00,1112.20 626.80,1129.50 611.70,1126.10 611.70,1137.80 592.50,1131.00' fill='#ff0000' />
<polygon points='931.10,1126.50 943.60,1132.50 943.60,1120.10 965.40,1137.40 950.30,1134.00 950.30,1145.70 931.10,1138.90' fill='#ff0000' />
<text transform='translate(481.9,1134.6) rotate(-90)' font-size='36' font-family='"Liberation Serif", serif' font-style='italic'>x</text>
<text transform='translate(481.9,1105.4) rotate(-90)' font-size='36' font-family='"Liberation Sans", sans-serif'>(μm)</text>
<text x='918.1' y='1452.3' font-size='36' font-style='italic' font-family='"Liberation Sans", sans-serif'>t</text>
<text x='937.5' y='1452.3' font-size='36' font-family='"Liberation Sans", sans-serif'>(s)</text>
</svg>
</body></html>
